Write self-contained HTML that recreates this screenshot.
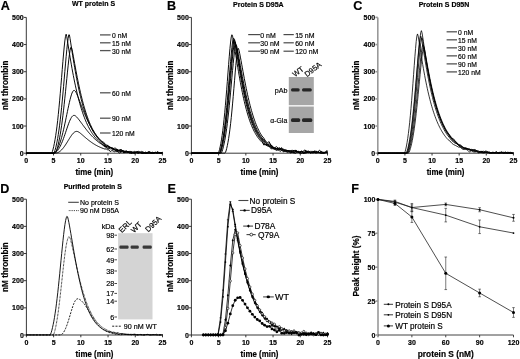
<!DOCTYPE html>
<html><head><meta charset="utf-8"><style>
html,body{margin:0;padding:0;background:#fff;}
svg{display:block;}
text{font-family:"Liberation Sans",sans-serif;fill:#000;stroke:#000;stroke-width:0.18px;}
svg{filter:grayscale(1);}
</style></head><body>
<svg width="520" height="359" viewBox="0 0 520 359">
<rect width="520" height="359" fill="#fff"/>
<line x1="26.30" y1="153.20" x2="26.30" y2="17.40" stroke="#222" stroke-width="0.9" />
<line x1="26.30" y1="153.20" x2="162.40" y2="153.20" stroke="#222" stroke-width="0.9" />
<line x1="26.30" y1="153.20" x2="26.30" y2="155.50" stroke="#222" stroke-width="0.9" />
<text transform="translate(26.30,163.30) scale(0.95,1)" font-size="7.4" font-weight="bold" text-anchor="middle" >0</text>
<line x1="53.52" y1="153.20" x2="53.52" y2="155.50" stroke="#222" stroke-width="0.9" />
<text transform="translate(53.52,163.30) scale(0.95,1)" font-size="7.4" font-weight="bold" text-anchor="middle" >5</text>
<line x1="80.74" y1="153.20" x2="80.74" y2="155.50" stroke="#222" stroke-width="0.9" />
<text transform="translate(80.74,163.30) scale(0.95,1)" font-size="7.4" font-weight="bold" text-anchor="middle" >10</text>
<line x1="107.96" y1="153.20" x2="107.96" y2="155.50" stroke="#222" stroke-width="0.9" />
<text transform="translate(107.96,163.30) scale(0.95,1)" font-size="7.4" font-weight="bold" text-anchor="middle" >15</text>
<line x1="135.18" y1="153.20" x2="135.18" y2="155.50" stroke="#222" stroke-width="0.9" />
<text transform="translate(135.18,163.30) scale(0.95,1)" font-size="7.4" font-weight="bold" text-anchor="middle" >20</text>
<line x1="162.40" y1="153.20" x2="162.40" y2="155.50" stroke="#222" stroke-width="0.9" />
<text transform="translate(162.40,163.30) scale(0.95,1)" font-size="7.4" font-weight="bold" text-anchor="middle" >25</text>
<line x1="23.90" y1="153.20" x2="26.30" y2="153.20" stroke="#222" stroke-width="0.9" />
<text transform="translate(23.70,155.80) scale(0.95,1)" font-size="7.4" font-weight="bold" text-anchor="end" >0</text>
<line x1="23.90" y1="126.04" x2="26.30" y2="126.04" stroke="#222" stroke-width="0.9" />
<text transform="translate(23.70,128.64) scale(0.95,1)" font-size="7.4" font-weight="bold" text-anchor="end" >100</text>
<line x1="23.90" y1="98.88" x2="26.30" y2="98.88" stroke="#222" stroke-width="0.9" />
<text transform="translate(23.70,101.48) scale(0.95,1)" font-size="7.4" font-weight="bold" text-anchor="end" >200</text>
<line x1="23.90" y1="71.72" x2="26.30" y2="71.72" stroke="#222" stroke-width="0.9" />
<text transform="translate(23.70,74.32) scale(0.95,1)" font-size="7.4" font-weight="bold" text-anchor="end" >300</text>
<line x1="23.90" y1="44.56" x2="26.30" y2="44.56" stroke="#222" stroke-width="0.9" />
<text transform="translate(23.70,47.16) scale(0.95,1)" font-size="7.4" font-weight="bold" text-anchor="end" >400</text>
<line x1="23.90" y1="17.40" x2="26.30" y2="17.40" stroke="#222" stroke-width="0.9" />
<text transform="translate(23.70,20.00) scale(0.95,1)" font-size="7.4" font-weight="bold" text-anchor="end" >500</text>
<text transform="translate(94.35,174.70) scale(0.9,1)" font-size="8.8" font-weight="bold" text-anchor="middle" >time (min)</text>
<text x="0" y="0" font-size="8.2" font-weight="bold" text-anchor="middle" transform="translate(8.10,85.30) rotate(-90)">nM thrombin</text>
<text x="0.80" y="9.60" font-size="12.6" font-weight="bold" text-anchor="start" >A</text>
<text x="93.50" y="6.40" font-size="7" font-weight="bold" text-anchor="middle" >WT protein S</text>
<polyline points="26.30,153.12 26.95,153.12 27.61,153.12 28.26,153.12 28.91,153.12 29.57,153.12 30.22,153.12 30.87,153.12 31.53,153.12 32.18,153.12 32.83,153.12 33.49,153.12 34.14,153.12 34.79,153.12 35.45,153.12 36.10,153.12 36.75,153.12 37.41,153.12 38.06,153.12 38.71,153.12 39.37,153.12 40.02,153.12 40.67,153.12 41.33,153.12 41.98,153.12 42.63,153.12 43.29,153.12 43.94,153.12 44.59,153.12 45.25,153.12 45.90,153.12 46.55,153.12 47.20,153.12 47.86,153.12 48.51,153.12 49.16,153.12 49.82,153.12 50.47,153.12 51.12,153.12 51.78,152.95 52.43,151.43 53.08,149.09 53.74,146.37 54.39,143.25 55.04,139.69 55.70,135.66 56.35,131.14 57.00,126.11 57.66,120.55 58.31,114.47 58.96,107.89 59.62,100.84 60.27,93.39 60.92,85.62 61.58,77.64 62.23,69.59 62.88,61.65 63.54,54.04 64.19,47.03 64.84,40.95 65.50,36.26 66.15,34.20 66.80,36.82 67.46,40.85 68.11,44.98 68.76,49.10 69.42,53.17 70.07,57.16 70.72,61.05 71.38,64.84 72.03,68.52 72.68,72.08 73.34,75.53 73.99,78.86 74.64,82.08 75.30,85.17 75.95,88.16 76.60,91.03 77.26,93.79 77.91,96.45 78.56,99.00 79.22,101.45 79.87,103.79 80.52,106.05 81.18,108.21 81.83,110.27 82.48,112.26 83.14,114.15 83.79,115.97 84.44,117.71 85.10,119.37 85.75,120.96 86.40,122.48 87.06,123.93 87.71,125.32 88.36,126.64 89.01,127.91 89.67,129.12 90.32,130.27 90.97,131.38 91.63,132.43 92.28,133.43 92.93,134.39 93.59,135.30 94.24,136.17 94.89,137.00 95.55,137.79 96.20,138.54 96.85,139.26 97.51,139.94 98.16,140.59 98.81,141.22 99.47,141.81 100.12,142.37 100.77,142.90 101.43,143.41 102.08,143.90 103.44,145.39 104.80,145.99 106.16,146.41 107.52,148.72 108.89,147.97 110.25,147.39 111.61,148.17 112.97,149.17 114.33,149.19 115.69,149.95 117.05,150.30 118.41,150.03 119.77,150.92 121.13,150.45 122.50,150.59 123.86,150.76 125.22,152.02 126.58,152.05 127.94,151.84 129.30,152.41 130.66,151.42 132.02,152.16 133.38,152.39 134.74,152.82 136.11,152.25 137.47,151.95 138.83,151.28 140.19,152.60 141.55,151.40 142.91,151.89 144.27,152.65 145.63,152.12 146.99,152.94 148.35,151.54 149.72,153.20 151.08,153.01 152.44,153.20 153.80,152.93 155.16,152.98 156.52,152.73 157.88,151.57 159.24,153.02 160.60,153.10 161.96,153.04 162.40,153.20" fill="none" stroke="#000" stroke-width="0.95" stroke-linejoin="round" />
<polyline points="26.30,153.12 26.95,153.12 27.61,153.12 28.26,153.12 28.91,153.12 29.57,153.12 30.22,153.12 30.87,153.12 31.53,153.12 32.18,153.12 32.83,153.12 33.49,153.12 34.14,153.12 34.79,153.12 35.45,153.12 36.10,153.12 36.75,153.12 37.41,153.12 38.06,153.12 38.71,153.12 39.37,153.12 40.02,153.12 40.67,153.12 41.33,153.12 41.98,153.12 42.63,153.12 43.29,153.12 43.94,153.12 44.59,153.12 45.25,153.12 45.90,153.12 46.55,153.12 47.20,153.12 47.86,153.12 48.51,153.12 49.16,153.12 49.82,153.12 50.47,153.12 51.12,153.12 51.78,153.12 52.43,153.12 53.08,153.12 53.74,153.09 54.39,152.24 55.04,150.22 55.70,147.81 56.35,145.06 57.00,141.94 57.66,138.41 58.31,134.45 58.96,130.04 59.62,125.16 60.27,119.82 60.92,114.01 61.58,107.74 62.23,101.07 62.88,94.02 63.54,86.68 64.19,79.13 64.84,71.50 65.50,63.92 66.15,56.58 66.80,49.69 67.46,43.50 68.11,38.36 68.76,34.80 69.42,34.89 70.07,38.67 70.72,42.92 71.38,47.21 72.03,51.45 72.68,55.63 73.34,59.70 73.99,63.67 74.64,67.51 75.30,71.24 75.95,74.84 76.60,78.32 77.26,81.67 77.91,84.90 78.56,88.00 79.22,90.99 79.87,93.85 80.52,96.60 81.18,99.23 81.83,101.76 82.48,104.18 83.14,106.50 83.79,108.72 84.44,110.84 85.10,112.87 85.75,114.81 86.40,116.66 87.06,118.43 87.71,120.12 88.36,121.73 89.01,123.27 89.67,124.74 90.32,126.14 90.97,127.47 91.63,128.75 92.28,129.96 92.93,131.12 93.59,132.22 94.24,133.27 94.89,134.27 95.55,135.22 96.20,136.12 96.85,136.98 97.51,137.80 98.16,138.58 98.81,139.33 99.47,140.03 100.12,140.70 100.77,141.34 101.43,141.95 102.08,142.52 103.44,143.56 104.80,146.18 106.16,146.22 107.52,145.74 108.89,147.13 110.25,147.36 111.61,148.13 112.97,147.92 114.33,149.45 115.69,149.98 117.05,149.07 118.41,150.38 119.77,150.87 121.13,152.10 122.50,151.15 123.86,151.16 125.22,151.34 126.58,151.16 127.94,152.02 129.30,151.37 130.66,152.60 132.02,152.15 133.38,152.53 134.74,152.75 136.11,152.81 137.47,152.56 138.83,152.45 140.19,152.86 141.55,152.46 142.91,153.20 144.27,152.75 145.63,153.09 146.99,152.32 148.35,152.68 149.72,153.20 151.08,152.28 152.44,153.11 153.80,152.97 155.16,152.00 156.52,153.20 157.88,152.26 159.24,152.63 160.60,153.20 161.96,152.75 162.40,153.20" fill="none" stroke="#000" stroke-width="0.95" stroke-linejoin="round" />
<polyline points="26.30,153.12 26.95,153.12 27.61,153.12 28.26,153.12 28.91,153.12 29.57,153.12 30.22,153.12 30.87,153.12 31.53,153.12 32.18,153.12 32.83,153.12 33.49,153.12 34.14,153.12 34.79,153.12 35.45,153.12 36.10,153.12 36.75,153.12 37.41,153.12 38.06,153.12 38.71,153.12 39.37,153.12 40.02,153.12 40.67,153.12 41.33,153.12 41.98,153.12 42.63,153.12 43.29,153.12 43.94,153.12 44.59,153.12 45.25,153.12 45.90,153.12 46.55,153.12 47.20,153.12 47.86,153.12 48.51,153.12 49.16,153.12 49.82,153.12 50.47,153.12 51.12,153.12 51.78,153.12 52.43,153.12 53.08,153.12 53.74,153.12 54.39,153.11 55.04,153.00 55.70,152.37 56.35,150.94 57.00,148.97 57.66,146.68 58.31,144.08 58.96,141.16 59.62,137.88 60.27,134.23 60.92,130.21 61.58,125.79 62.23,120.98 62.88,115.79 63.54,110.23 64.19,104.34 64.84,98.17 65.50,91.77 66.15,85.22 66.80,78.63 67.46,72.11 68.11,65.81 68.76,59.92 69.42,54.65 70.07,50.30 70.72,47.48 71.38,47.18 72.03,49.39 72.68,52.70 73.34,56.26 73.99,59.88 74.64,63.49 75.30,67.06 75.95,70.58 76.60,74.02 77.26,77.38 77.91,80.65 78.56,83.82 79.22,86.89 79.87,89.86 80.52,92.73 81.18,95.50 81.83,98.17 82.48,100.74 83.14,103.21 83.79,105.58 84.44,107.85 85.10,110.04 85.75,112.13 86.40,114.13 87.06,116.05 87.71,117.88 88.36,119.64 89.01,121.31 89.67,122.91 90.32,124.44 90.97,125.90 91.63,127.29 92.28,128.62 92.93,129.88 93.59,131.08 94.24,132.23 94.89,133.32 95.55,134.36 96.20,135.34 96.85,136.28 97.51,137.18 98.16,138.03 98.81,138.83 99.47,139.60 100.12,140.32 100.77,141.01 101.43,141.67 102.08,142.29 103.44,143.61 104.80,144.30 106.16,147.34 107.52,144.90 108.89,147.37 110.25,147.44 111.61,147.61 112.97,148.62 114.33,149.71 115.69,149.93 117.05,150.14 118.41,150.52 119.77,149.77 121.13,149.65 122.50,150.47 123.86,152.99 125.22,152.14 126.58,151.59 127.94,152.38 129.30,152.04 130.66,153.14 132.02,152.47 133.38,152.60 134.74,152.45 136.11,153.20 137.47,151.36 138.83,152.73 140.19,152.36 141.55,153.20 142.91,153.20 144.27,153.04 145.63,152.92 146.99,153.17 148.35,153.07 149.72,151.40 151.08,153.20 152.44,153.20 153.80,153.20 155.16,152.92 156.52,153.20 157.88,153.20 159.24,152.75 160.60,153.20 161.96,153.20 162.40,152.66" fill="none" stroke="#000" stroke-width="0.95" stroke-linejoin="round" />
<polyline points="26.30,153.12 26.95,153.12 27.61,153.12 28.26,153.12 28.91,153.12 29.57,153.12 30.22,153.12 30.87,153.12 31.53,153.12 32.18,153.12 32.83,153.12 33.49,153.12 34.14,153.12 34.79,153.12 35.45,153.12 36.10,153.12 36.75,153.12 37.41,153.12 38.06,153.12 38.71,153.12 39.37,153.12 40.02,153.12 40.67,153.12 41.33,153.12 41.98,153.12 42.63,153.12 43.29,153.12 43.94,153.12 44.59,153.12 45.25,153.12 45.90,153.12 46.55,153.12 47.20,153.12 47.86,153.12 48.51,153.12 49.16,153.12 49.82,153.12 50.47,153.12 51.12,153.11 51.78,153.11 52.43,153.08 53.08,153.02 53.74,152.90 54.39,152.67 55.04,152.28 55.70,151.70 56.35,150.90 57.00,149.88 57.66,148.65 58.31,147.23 58.96,145.63 59.62,143.86 60.27,141.93 60.92,139.82 61.58,137.55 62.23,135.12 62.88,132.53 63.54,129.80 64.19,126.93 64.84,123.95 65.50,120.88 66.15,117.74 66.80,114.57 67.46,111.40 68.11,108.27 68.76,105.22 69.42,102.30 70.07,99.57 70.72,97.06 71.38,94.86 72.03,93.03 72.68,91.64 73.34,90.74 73.99,90.39 74.64,90.56 75.30,91.20 75.95,92.23 76.60,93.55 77.26,95.05 77.91,96.67 78.56,98.34 79.22,100.05 79.87,101.77 80.52,103.49 81.18,105.20 81.83,106.89 82.48,108.56 83.14,110.20 83.79,111.81 84.44,113.38 85.10,114.93 85.75,116.43 86.40,117.89 87.06,119.32 87.71,120.71 88.36,122.05 89.01,123.36 89.67,124.62 90.32,125.84 90.97,127.02 91.63,128.16 92.28,129.27 92.93,130.33 93.59,131.35 94.24,132.34 94.89,133.29 95.55,134.20 96.20,135.08 96.85,135.92 97.51,136.73 98.16,137.51 98.81,138.25 99.47,138.97 100.12,139.65 100.77,140.31 101.43,140.93 102.08,141.53 103.44,141.96 104.80,143.86 106.16,144.73 107.52,145.81 108.89,146.42 110.25,147.00 111.61,148.45 112.97,148.58 114.33,148.20 115.69,148.08 117.05,150.16 118.41,151.31 119.77,149.88 121.13,149.98 122.50,150.50 123.86,152.17 125.22,151.75 126.58,151.62 127.94,151.99 129.30,151.72 130.66,153.20 132.02,153.20 133.38,151.77 134.74,151.41 136.11,152.47 137.47,152.06 138.83,152.56 140.19,151.80 141.55,153.20 142.91,152.60 144.27,153.03 145.63,153.20 146.99,152.52 148.35,153.14 149.72,153.20 151.08,153.20 152.44,152.23 153.80,152.86 155.16,152.46 156.52,152.69 157.88,153.09 159.24,152.83 160.60,153.20 161.96,152.23 162.40,153.20" fill="none" stroke="#000" stroke-width="0.95" stroke-linejoin="round" />
<polyline points="26.30,153.12 26.95,153.12 27.61,153.12 28.26,153.12 28.91,153.12 29.57,153.12 30.22,153.12 30.87,153.12 31.53,153.12 32.18,153.12 32.83,153.12 33.49,153.12 34.14,153.12 34.79,153.12 35.45,153.12 36.10,153.12 36.75,153.12 37.41,153.12 38.06,153.12 38.71,153.12 39.37,153.12 40.02,153.12 40.67,153.12 41.33,153.12 41.98,153.12 42.63,153.12 43.29,153.12 43.94,153.12 44.59,153.12 45.25,153.12 45.90,153.12 46.55,153.12 47.20,153.12 47.86,153.12 48.51,153.12 49.16,153.12 49.82,153.12 50.47,153.12 51.12,153.12 51.78,153.11 52.43,153.10 53.08,153.07 53.74,153.01 54.39,152.89 55.04,152.67 55.70,152.34 56.35,151.86 57.00,151.24 57.66,150.48 58.31,149.58 58.96,148.56 59.62,147.43 60.27,146.18 60.92,144.82 61.58,143.36 62.23,141.79 62.88,140.13 63.54,138.38 64.19,136.56 64.84,134.68 65.50,132.75 66.15,130.80 66.80,128.86 67.46,126.93 68.11,125.07 68.76,123.28 69.42,121.60 70.07,120.06 70.72,118.69 71.38,117.53 72.03,116.59 72.68,115.92 73.34,115.51 73.99,115.37 74.64,115.48 75.30,115.81 75.95,116.31 76.60,116.93 77.26,117.65 77.91,118.42 78.56,119.24 79.22,120.08 79.87,120.95 80.52,121.82 81.18,122.71 81.83,123.60 82.48,124.49 83.14,125.37 83.79,126.25 84.44,127.12 85.10,127.99 85.75,128.84 86.40,129.68 87.06,130.50 87.71,131.31 88.36,132.10 89.01,132.88 89.67,133.64 90.32,134.38 90.97,135.11 91.63,135.81 92.28,136.50 92.93,137.16 93.59,137.81 94.24,138.44 94.89,139.05 95.55,139.64 96.20,140.21 96.85,140.77 97.51,141.30 98.16,141.82 98.81,142.32 99.47,142.80 100.12,143.26 100.77,143.71 101.43,144.14 102.08,144.55 103.44,145.69 104.80,146.80 106.16,146.96 107.52,146.71 108.89,148.55 110.25,148.80 111.61,148.90 112.97,149.44 114.33,149.84 115.69,150.62 117.05,151.02 118.41,152.15 119.77,151.07 121.13,151.36 122.50,150.76 123.86,151.71 125.22,151.26 126.58,151.09 127.94,152.13 129.30,152.97 130.66,151.67 132.02,152.09 133.38,152.82 134.74,153.20 136.11,151.38 137.47,153.20 138.83,153.06 140.19,152.72 141.55,153.20 142.91,153.17 144.27,152.69 145.63,153.20 146.99,153.08 148.35,153.20 149.72,152.30 151.08,152.99 152.44,153.20 153.80,153.20 155.16,152.89 156.52,152.41 157.88,152.26 159.24,153.20 160.60,152.59 161.96,153.20 162.40,151.87" fill="none" stroke="#000" stroke-width="0.95" stroke-linejoin="round" />
<polyline points="26.30,153.12 26.95,153.12 27.61,153.12 28.26,153.12 28.91,153.12 29.57,153.12 30.22,153.12 30.87,153.12 31.53,153.12 32.18,153.12 32.83,153.12 33.49,153.12 34.14,153.12 34.79,153.12 35.45,153.12 36.10,153.12 36.75,153.12 37.41,153.12 38.06,153.12 38.71,153.12 39.37,153.12 40.02,153.12 40.67,153.12 41.33,153.12 41.98,153.12 42.63,153.12 43.29,153.12 43.94,153.12 44.59,153.12 45.25,153.12 45.90,153.12 46.55,153.12 47.20,153.12 47.86,153.12 48.51,153.12 49.16,153.12 49.82,153.12 50.47,153.12 51.12,153.12 51.78,153.12 52.43,153.12 53.08,153.12 53.74,153.12 54.39,153.11 55.04,153.09 55.70,153.06 56.35,152.98 57.00,152.86 57.66,152.67 58.31,152.40 58.96,152.04 59.62,151.61 60.27,151.10 60.92,150.52 61.58,149.88 62.23,149.18 62.88,148.42 63.54,147.60 64.19,146.73 64.84,145.81 65.50,144.84 66.15,143.84 66.80,142.80 67.46,141.74 68.11,140.67 68.76,139.59 69.42,138.53 70.07,137.50 70.72,136.50 71.38,135.55 72.03,134.67 72.68,133.87 73.34,133.15 73.99,132.54 74.64,132.05 75.30,131.69 75.95,131.47 76.60,131.39 77.26,131.46 77.91,131.67 78.56,131.99 79.22,132.39 79.87,132.86 80.52,133.37 81.18,133.91 81.83,134.47 82.48,135.03 83.14,135.60 83.79,136.17 84.44,136.74 85.10,137.31 85.75,137.87 86.40,138.42 87.06,138.96 87.71,139.49 88.36,140.02 89.01,140.53 89.67,141.03 90.32,141.51 90.97,141.99 91.63,142.45 92.28,142.90 92.93,143.33 93.59,143.75 94.24,144.16 94.89,144.55 95.55,144.94 96.20,145.30 96.85,145.66 97.51,146.00 98.16,146.33 98.81,146.65 99.47,146.95 100.12,147.25 100.77,147.53 101.43,147.80 102.08,148.06 103.44,148.55 104.80,149.03 106.16,148.87 107.52,149.78 108.89,149.82 110.25,151.61 111.61,150.70 112.97,150.79 114.33,151.74 115.69,151.26 117.05,151.39 118.41,151.95 119.77,153.18 121.13,151.56 122.50,151.89 123.86,152.68 125.22,152.36 126.58,152.50 127.94,152.21 129.30,152.91 130.66,152.58 132.02,153.20 133.38,153.20 134.74,153.02 136.11,152.08 137.47,153.14 138.83,153.18 140.19,152.03 141.55,152.93 142.91,153.07 144.27,152.95 145.63,153.20 146.99,153.01 148.35,151.99 149.72,152.39 151.08,152.95 152.44,152.56 153.80,152.86 155.16,152.40 156.52,152.80 157.88,153.20 159.24,152.79 160.60,153.06 161.96,153.20 162.40,153.20" fill="none" stroke="#000" stroke-width="0.95" stroke-linejoin="round" />
<line x1="100.00" y1="34.90" x2="110.60" y2="34.90" stroke="#555" stroke-width="1.3" />
<text transform="translate(112.00,37.90) scale(0.93,1)" font-size="7.3" text-anchor="start" >0 nM</text>
<line x1="100.00" y1="42.80" x2="110.60" y2="42.80" stroke="#555" stroke-width="1.3" />
<text transform="translate(112.00,45.80) scale(0.93,1)" font-size="7.3" text-anchor="start" >15 nM</text>
<line x1="100.00" y1="50.60" x2="110.60" y2="50.60" stroke="#555" stroke-width="1.3" />
<text transform="translate(112.00,53.60) scale(0.93,1)" font-size="7.3" text-anchor="start" >30 nM</text>
<line x1="100.00" y1="92.80" x2="110.60" y2="92.80" stroke="#555" stroke-width="1.3" />
<text transform="translate(112.00,95.80) scale(0.93,1)" font-size="7.3" text-anchor="start" >60 nM</text>
<line x1="100.00" y1="118.20" x2="110.60" y2="118.20" stroke="#555" stroke-width="1.3" />
<text transform="translate(112.00,121.20) scale(0.93,1)" font-size="7.3" text-anchor="start" >90 nM</text>
<line x1="100.00" y1="133.00" x2="110.60" y2="133.00" stroke="#555" stroke-width="1.3" />
<text transform="translate(112.00,136.00) scale(0.93,1)" font-size="7.3" text-anchor="start" >120 nM</text>
<line x1="191.40" y1="153.20" x2="191.40" y2="17.40" stroke="#222" stroke-width="0.9" />
<line x1="191.40" y1="153.20" x2="327.50" y2="153.20" stroke="#222" stroke-width="0.9" />
<line x1="191.40" y1="153.20" x2="191.40" y2="155.50" stroke="#222" stroke-width="0.9" />
<text transform="translate(191.40,163.30) scale(0.95,1)" font-size="7.4" font-weight="bold" text-anchor="middle" >0</text>
<line x1="218.62" y1="153.20" x2="218.62" y2="155.50" stroke="#222" stroke-width="0.9" />
<text transform="translate(218.62,163.30) scale(0.95,1)" font-size="7.4" font-weight="bold" text-anchor="middle" >5</text>
<line x1="245.84" y1="153.20" x2="245.84" y2="155.50" stroke="#222" stroke-width="0.9" />
<text transform="translate(245.84,163.30) scale(0.95,1)" font-size="7.4" font-weight="bold" text-anchor="middle" >10</text>
<line x1="273.06" y1="153.20" x2="273.06" y2="155.50" stroke="#222" stroke-width="0.9" />
<text transform="translate(273.06,163.30) scale(0.95,1)" font-size="7.4" font-weight="bold" text-anchor="middle" >15</text>
<line x1="300.28" y1="153.20" x2="300.28" y2="155.50" stroke="#222" stroke-width="0.9" />
<text transform="translate(300.28,163.30) scale(0.95,1)" font-size="7.4" font-weight="bold" text-anchor="middle" >20</text>
<line x1="327.50" y1="153.20" x2="327.50" y2="155.50" stroke="#222" stroke-width="0.9" />
<text transform="translate(327.50,163.30) scale(0.95,1)" font-size="7.4" font-weight="bold" text-anchor="middle" >25</text>
<line x1="189.00" y1="153.20" x2="191.40" y2="153.20" stroke="#222" stroke-width="0.9" />
<text transform="translate(188.80,155.80) scale(0.95,1)" font-size="7.4" font-weight="bold" text-anchor="end" >0</text>
<line x1="189.00" y1="126.04" x2="191.40" y2="126.04" stroke="#222" stroke-width="0.9" />
<text transform="translate(188.80,128.64) scale(0.95,1)" font-size="7.4" font-weight="bold" text-anchor="end" >100</text>
<line x1="189.00" y1="98.88" x2="191.40" y2="98.88" stroke="#222" stroke-width="0.9" />
<text transform="translate(188.80,101.48) scale(0.95,1)" font-size="7.4" font-weight="bold" text-anchor="end" >200</text>
<line x1="189.00" y1="71.72" x2="191.40" y2="71.72" stroke="#222" stroke-width="0.9" />
<text transform="translate(188.80,74.32) scale(0.95,1)" font-size="7.4" font-weight="bold" text-anchor="end" >300</text>
<line x1="189.00" y1="44.56" x2="191.40" y2="44.56" stroke="#222" stroke-width="0.9" />
<text transform="translate(188.80,47.16) scale(0.95,1)" font-size="7.4" font-weight="bold" text-anchor="end" >400</text>
<line x1="189.00" y1="17.40" x2="191.40" y2="17.40" stroke="#222" stroke-width="0.9" />
<text transform="translate(188.80,20.00) scale(0.95,1)" font-size="7.4" font-weight="bold" text-anchor="end" >500</text>
<text transform="translate(259.45,174.70) scale(0.9,1)" font-size="8.8" font-weight="bold" text-anchor="middle" >time (min)</text>
<text x="0" y="0" font-size="8.2" font-weight="bold" text-anchor="middle" transform="translate(172.80,85.30) rotate(-90)">nM thrombin</text>
<text x="166.90" y="9.90" font-size="12.6" font-weight="bold" text-anchor="start" >B</text>
<text x="258.40" y="7.00" font-size="7" font-weight="bold" text-anchor="middle" >Protein S D95A</text>
<polyline points="191.40,153.12 192.05,153.12 192.71,153.12 193.36,153.12 194.01,153.12 194.67,153.12 195.32,153.12 195.97,153.12 196.63,153.12 197.28,153.12 197.93,153.12 198.59,153.12 199.24,153.12 199.89,153.12 200.55,153.12 201.20,153.12 201.85,153.12 202.51,153.12 203.16,153.12 203.81,153.12 204.47,153.12 205.12,153.12 205.77,153.12 206.43,153.12 207.08,153.12 207.73,153.12 208.39,153.12 209.04,153.12 209.69,153.12 210.35,153.12 211.00,153.12 211.65,153.12 212.30,153.12 212.96,153.12 213.61,153.12 214.26,153.12 214.92,153.12 215.57,153.12 216.22,153.12 216.88,153.12 217.53,153.11 218.18,152.96 218.84,151.91 219.49,149.70 220.14,146.90 220.80,143.64 221.45,139.89 222.10,135.61 222.76,130.77 223.41,125.35 224.06,119.34 224.72,112.74 225.37,105.58 226.02,97.92 226.68,89.83 227.33,81.44 227.98,72.90 228.64,64.40 229.29,56.20 229.94,48.60 230.60,42.00 231.25,36.98 231.90,34.75 232.56,36.13 233.21,39.38 233.86,43.14 234.52,47.10 235.17,51.16 235.82,55.26 236.48,59.36 237.13,63.41 237.78,67.41 238.44,71.33 239.09,75.15 239.74,78.87 240.40,82.47 241.05,85.96 241.70,89.33 242.36,92.57 243.01,95.68 243.66,98.67 244.32,101.54 244.97,104.28 245.62,106.90 246.28,109.39 246.93,111.78 247.58,114.04 248.24,116.20 248.89,118.25 249.54,120.19 250.20,122.04 250.85,123.79 251.50,125.44 252.16,127.01 252.81,128.49 253.46,129.89 254.11,131.21 254.77,132.46 255.42,133.64 256.07,134.75 256.73,135.80 257.38,136.78 258.03,137.71 258.69,138.58 259.34,139.40 259.99,140.18 260.65,140.90 261.30,141.59 261.95,142.23 263.75,143.46 265.55,144.79 267.34,145.95 269.14,146.20 270.94,148.78 272.73,148.70 274.53,148.95 276.33,150.41 278.12,149.86 279.92,149.21 281.72,149.02 283.51,150.42 285.31,149.57 287.11,150.42 288.90,150.75 290.70,151.62 292.50,152.09 294.29,152.64 296.09,151.30 297.88,152.20 299.68,152.49 301.48,151.55 303.27,153.20 305.07,151.79 306.87,152.62 308.66,152.20 310.46,152.90 312.26,152.19 314.05,152.48 315.85,152.74 317.65,152.60 319.44,152.82 321.24,153.20 323.04,152.66 324.83,152.75 326.63,152.61 327.50,152.88" fill="none" stroke="#000" stroke-width="0.95" stroke-linejoin="round" />
<polyline points="191.40,153.12 192.05,153.12 192.71,153.12 193.36,153.12 194.01,153.12 194.67,153.12 195.32,153.12 195.97,153.12 196.63,153.12 197.28,153.12 197.93,153.12 198.59,153.12 199.24,153.12 199.89,153.12 200.55,153.12 201.20,153.12 201.85,153.12 202.51,153.12 203.16,153.12 203.81,153.12 204.47,153.12 205.12,153.12 205.77,153.12 206.43,153.12 207.08,153.12 207.73,153.12 208.39,153.12 209.04,153.12 209.69,153.12 210.35,153.12 211.00,153.12 211.65,153.12 212.30,153.12 212.96,153.12 213.61,153.12 214.26,153.12 214.92,153.12 215.57,153.12 216.22,153.12 216.88,153.12 217.53,153.12 218.18,153.12 218.84,153.10 219.49,152.76 220.14,151.36 220.80,149.08 221.45,146.35 222.10,143.21 222.76,139.63 223.41,135.56 224.06,130.99 224.72,125.89 225.37,120.27 226.02,114.12 226.68,107.46 227.33,100.35 227.98,92.85 228.64,85.06 229.29,77.10 229.94,69.14 230.60,61.37 231.25,54.05 231.90,47.47 232.56,42.06 233.21,38.58 233.86,38.34 234.52,40.87 235.17,44.34 235.82,48.10 236.48,52.01 237.13,55.98 237.78,59.96 238.44,63.92 239.09,67.84 239.74,71.68 240.40,75.44 241.05,79.10 241.70,82.66 242.36,86.10 243.01,89.43 243.66,92.64 244.32,95.73 244.97,98.69 245.62,101.54 246.28,104.26 246.93,106.86 247.58,109.35 248.24,111.72 248.89,113.97 249.54,116.12 250.20,118.16 250.85,120.10 251.50,121.94 252.16,123.69 252.81,125.34 253.46,126.91 254.11,128.39 254.77,129.79 255.42,131.11 256.07,132.36 256.73,133.54 257.38,134.65 258.03,135.70 258.69,136.69 259.34,137.62 259.99,138.49 260.65,139.32 261.30,140.09 261.95,140.82 263.75,144.99 265.55,144.25 267.34,145.40 269.14,146.22 270.94,147.43 272.73,147.75 274.53,148.01 276.33,148.56 278.12,150.03 279.92,149.03 281.72,150.46 283.51,149.74 285.31,150.89 287.11,151.31 288.90,151.33 290.70,152.94 292.50,151.13 294.29,150.49 296.09,150.32 297.88,151.79 299.68,152.57 301.48,151.82 303.27,153.01 305.07,152.94 306.87,152.80 308.66,151.88 310.46,151.40 312.26,151.40 314.05,151.61 315.85,152.55 317.65,151.78 319.44,152.72 321.24,151.86 323.04,152.16 324.83,152.62 326.63,152.61 327.50,152.78" fill="none" stroke="#000" stroke-width="0.95" stroke-linejoin="round" />
<polyline points="191.40,153.12 192.05,153.12 192.71,153.12 193.36,153.12 194.01,153.12 194.67,153.12 195.32,153.12 195.97,153.12 196.63,153.12 197.28,153.12 197.93,153.12 198.59,153.12 199.24,153.12 199.89,153.12 200.55,153.12 201.20,153.12 201.85,153.12 202.51,153.12 203.16,153.12 203.81,153.12 204.47,153.12 205.12,153.12 205.77,153.12 206.43,153.12 207.08,153.12 207.73,153.12 208.39,153.12 209.04,153.12 209.69,153.12 210.35,153.12 211.00,153.12 211.65,153.12 212.30,153.12 212.96,153.12 213.61,153.12 214.26,153.12 214.92,153.12 215.57,153.12 216.22,153.12 216.88,153.12 217.53,153.12 218.18,153.12 218.84,153.12 219.49,152.99 220.14,152.12 220.80,150.22 221.45,147.81 222.10,145.04 222.76,141.88 223.41,138.29 224.06,134.26 224.72,129.76 225.37,124.78 226.02,119.31 226.68,113.37 227.33,106.98 227.98,100.18 228.64,93.03 229.29,85.63 229.94,78.07 230.60,70.52 231.25,63.14 231.90,56.15 232.56,49.80 233.21,44.45 233.86,40.67 234.52,39.66 235.17,41.69 235.82,44.98 236.48,48.64 237.13,52.46 237.78,56.36 238.44,60.29 239.09,64.20 239.74,68.07 240.40,71.88 241.05,75.60 241.70,79.23 242.36,82.77 243.01,86.19 243.66,89.50 244.32,92.69 244.97,95.76 245.62,98.71 246.28,101.55 246.93,104.26 247.58,106.85 248.24,109.33 248.89,111.69 249.54,113.94 250.20,116.09 250.85,118.13 251.50,120.06 252.16,121.90 252.81,123.64 253.46,125.30 254.11,126.86 254.77,128.34 255.42,129.74 256.07,131.06 256.73,132.31 257.38,133.49 258.03,134.60 258.69,135.65 259.34,136.64 259.99,137.57 260.65,138.45 261.30,139.27 261.95,140.05 263.75,141.86 265.55,144.71 267.34,144.26 269.14,145.17 270.94,145.48 272.73,148.12 274.53,149.36 276.33,148.79 278.12,149.47 279.92,151.34 281.72,150.33 283.51,151.72 285.31,150.79 287.11,152.37 288.90,152.02 290.70,151.68 292.50,151.07 294.29,151.59 296.09,151.86 297.88,151.64 299.68,153.20 301.48,153.20 303.27,153.07 305.07,153.20 306.87,151.80 308.66,151.06 310.46,152.78 312.26,152.38 314.05,151.35 315.85,152.09 317.65,152.37 319.44,152.41 321.24,152.93 323.04,153.20 324.83,152.08 326.63,152.16 327.50,153.16" fill="none" stroke="#000" stroke-width="0.95" stroke-linejoin="round" />
<polyline points="191.40,153.12 192.05,153.12 192.71,153.12 193.36,153.12 194.01,153.12 194.67,153.12 195.32,153.12 195.97,153.12 196.63,153.12 197.28,153.12 197.93,153.12 198.59,153.12 199.24,153.12 199.89,153.12 200.55,153.12 201.20,153.12 201.85,153.12 202.51,153.12 203.16,153.12 203.81,153.12 204.47,153.12 205.12,153.12 205.77,153.12 206.43,153.12 207.08,153.12 207.73,153.12 208.39,153.12 209.04,153.12 209.69,153.12 210.35,153.12 211.00,153.12 211.65,153.12 212.30,153.12 212.96,153.12 213.61,153.12 214.26,153.12 214.92,153.12 215.57,153.12 216.22,153.12 216.88,153.12 217.53,153.12 218.18,153.12 218.84,153.12 219.49,153.11 220.14,152.93 220.80,151.88 221.45,149.91 222.10,147.49 222.76,144.71 223.41,141.54 224.06,137.95 224.72,133.92 225.37,129.43 226.02,124.46 226.68,119.02 227.33,113.12 227.98,106.78 228.64,100.05 229.29,92.99 229.94,85.70 230.60,78.28 231.25,70.89 231.90,63.70 232.56,56.92 233.21,50.84 233.86,45.80 234.52,42.44 235.17,41.99 235.82,44.24 236.48,47.48 237.13,51.03 237.78,54.71 238.44,58.47 239.09,62.24 239.74,66.01 240.40,69.73 241.05,73.38 241.70,76.97 242.36,80.47 243.01,83.87 243.66,87.17 244.32,90.36 244.97,93.44 245.62,96.41 246.28,99.27 246.93,102.01 247.58,104.64 248.24,107.16 248.89,109.57 249.54,111.87 250.20,114.07 250.85,116.16 251.50,118.15 252.16,120.05 252.81,121.85 253.46,123.56 254.11,125.18 254.77,126.72 255.42,128.18 256.07,129.56 256.73,130.87 257.38,132.10 258.03,133.27 258.69,134.37 259.34,135.42 259.99,136.40 260.65,137.33 261.30,138.20 261.95,139.03 263.75,140.19 265.55,142.81 267.34,144.47 269.14,143.83 270.94,144.57 272.73,146.82 274.53,148.02 276.33,146.61 278.12,148.11 279.92,149.11 281.72,147.68 283.51,151.40 285.31,150.82 287.11,150.55 288.90,151.03 290.70,153.06 292.50,151.93 294.29,152.16 296.09,151.31 297.88,152.40 299.68,151.91 301.48,153.20 303.27,151.01 305.07,149.91 306.87,152.27 308.66,152.68 310.46,152.20 312.26,152.95 314.05,152.89 315.85,150.79 317.65,152.71 319.44,152.48 321.24,153.20 323.04,152.53 324.83,153.07 326.63,151.96 327.50,150.67" fill="none" stroke="#000" stroke-width="0.95" stroke-linejoin="round" />
<polyline points="191.40,153.12 192.05,153.12 192.71,153.12 193.36,153.12 194.01,153.12 194.67,153.12 195.32,153.12 195.97,153.12 196.63,153.12 197.28,153.12 197.93,153.12 198.59,153.12 199.24,153.12 199.89,153.12 200.55,153.12 201.20,153.12 201.85,153.12 202.51,153.12 203.16,153.12 203.81,153.12 204.47,153.12 205.12,153.12 205.77,153.12 206.43,153.12 207.08,153.12 207.73,153.12 208.39,153.12 209.04,153.12 209.69,153.12 210.35,153.12 211.00,153.12 211.65,153.12 212.30,153.12 212.96,153.12 213.61,153.12 214.26,153.12 214.92,153.12 215.57,153.12 216.22,153.12 216.88,153.12 217.53,153.12 218.18,153.12 218.84,153.12 219.49,153.12 220.14,153.12 220.80,153.09 221.45,152.72 222.10,151.34 222.76,149.24 223.41,146.76 224.06,143.92 224.72,140.70 225.37,137.06 226.02,132.98 226.68,128.44 227.33,123.44 227.98,117.98 228.64,112.08 229.29,105.76 229.94,99.08 230.60,92.11 231.25,84.94 231.90,77.69 232.56,70.52 233.21,63.62 233.86,57.20 234.52,51.56 235.17,47.09 235.82,44.63 236.48,45.23 237.13,47.90 237.78,51.19 238.44,54.70 239.09,58.32 239.74,61.99 240.40,65.67 241.05,69.32 241.70,72.93 242.36,76.48 243.01,79.94 243.66,83.32 244.32,86.60 244.97,89.79 245.62,92.86 246.28,95.83 246.93,98.69 247.58,101.44 248.24,104.07 248.89,106.60 249.54,109.02 250.20,111.34 250.85,113.54 251.50,115.65 252.16,117.66 252.81,119.57 253.46,121.38 254.11,123.11 254.77,124.75 255.42,126.31 256.07,127.78 256.73,129.18 257.38,130.50 258.03,131.75 258.69,132.93 259.34,134.05 259.99,135.11 260.65,136.11 261.30,137.05 261.95,137.94 263.75,140.04 265.55,142.00 267.34,143.67 269.14,146.16 270.94,146.66 272.73,148.01 274.53,147.86 276.33,149.44 278.12,148.54 279.92,147.73 281.72,150.06 283.51,149.16 285.31,150.48 287.11,150.70 288.90,151.02 290.70,150.51 292.50,150.35 294.29,150.68 296.09,150.62 297.88,151.95 299.68,152.14 301.48,150.96 303.27,151.89 305.07,152.41 306.87,151.42 308.66,151.82 310.46,152.75 312.26,152.69 314.05,150.75 315.85,152.37 317.65,152.22 319.44,152.49 321.24,151.51 323.04,153.20 324.83,152.92 326.63,150.62 327.50,152.47" fill="none" stroke="#000" stroke-width="0.95" stroke-linejoin="round" />
<polyline points="191.40,153.12 192.05,153.12 192.71,153.12 193.36,153.12 194.01,153.12 194.67,153.12 195.32,153.12 195.97,153.12 196.63,153.12 197.28,153.12 197.93,153.12 198.59,153.12 199.24,153.12 199.89,153.12 200.55,153.12 201.20,153.12 201.85,153.12 202.51,153.12 203.16,153.12 203.81,153.12 204.47,153.12 205.12,153.12 205.77,153.12 206.43,153.12 207.08,153.12 207.73,153.12 208.39,153.12 209.04,153.12 209.69,153.12 210.35,153.12 211.00,153.12 211.65,153.12 212.30,153.12 212.96,153.12 213.61,153.12 214.26,153.12 214.92,153.12 215.57,153.12 216.22,153.12 216.88,153.12 217.53,153.12 218.18,153.12 218.84,153.12 219.49,153.12 220.14,153.12 220.80,153.12 221.45,153.12 222.10,153.12 222.76,153.12 223.41,153.12 224.06,153.12 224.72,153.08 225.37,152.58 226.02,150.94 226.68,148.52 227.33,145.65 227.98,142.32 228.64,138.48 229.29,134.11 229.94,129.18 230.60,123.69 231.25,117.62 231.90,111.02 232.56,103.93 233.21,96.44 233.86,88.66 234.52,80.76 235.17,72.95 235.82,65.48 236.48,58.68 237.13,52.98 237.78,49.14 238.44,48.45 239.09,50.58 239.74,53.70 240.40,57.10 241.05,60.64 241.70,64.25 242.36,67.86 243.01,71.46 243.66,75.02 244.32,78.52 244.97,81.94 245.62,85.27 246.28,88.51 246.93,91.64 247.58,94.68 248.24,97.60 248.89,100.41 249.54,103.11 250.20,105.71 250.85,108.19 251.50,110.56 252.16,112.83 252.81,114.99 253.46,117.05 254.11,119.01 254.77,120.88 255.42,122.65 256.07,124.33 256.73,125.92 257.38,127.43 258.03,128.86 258.69,130.22 259.34,131.50 259.99,132.71 260.65,133.85 261.30,134.93 261.95,135.95 263.75,138.06 265.55,141.09 267.34,142.65 269.14,141.69 270.94,145.56 272.73,146.42 274.53,148.45 276.33,148.44 278.12,148.70 279.92,149.02 281.72,148.47 283.51,149.96 285.31,151.39 287.11,151.18 288.90,150.84 290.70,151.01 292.50,152.52 294.29,153.04 296.09,153.17 297.88,151.03 299.68,151.83 301.48,151.59 303.27,153.20 305.07,151.89 306.87,150.78 308.66,152.19 310.46,152.75 312.26,152.39 314.05,152.53 315.85,153.04 317.65,152.81 319.44,150.14 321.24,151.85 323.04,153.20 324.83,152.59 326.63,152.59 327.50,153.18" fill="none" stroke="#000" stroke-width="0.95" stroke-linejoin="round" />
<line x1="248.20" y1="34.60" x2="260.00" y2="34.60" stroke="#4a4a4a" stroke-width="1.2" />
<text transform="translate(260.30,37.60) scale(0.94,1)" font-size="7.4" text-anchor="start" >0 nM</text>
<line x1="248.20" y1="42.80" x2="260.00" y2="42.80" stroke="#4a4a4a" stroke-width="1.2" />
<text transform="translate(260.30,45.80) scale(0.94,1)" font-size="7.4" text-anchor="start" >30 nM</text>
<line x1="248.20" y1="51.20" x2="260.00" y2="51.20" stroke="#4a4a4a" stroke-width="1.2" />
<text transform="translate(260.30,54.20) scale(0.94,1)" font-size="7.4" text-anchor="start" >90 nM</text>
<line x1="283.50" y1="34.60" x2="293.80" y2="34.60" stroke="#4a4a4a" stroke-width="1.2" />
<text transform="translate(295.20,37.60) scale(0.94,1)" font-size="7.4" text-anchor="start" >15 nM</text>
<line x1="283.50" y1="42.80" x2="293.80" y2="42.80" stroke="#4a4a4a" stroke-width="1.2" />
<text transform="translate(295.20,45.80) scale(0.94,1)" font-size="7.4" text-anchor="start" >60 nM</text>
<line x1="283.50" y1="51.20" x2="293.80" y2="51.20" stroke="#4a4a4a" stroke-width="1.2" />
<text transform="translate(295.20,54.20) scale(0.94,1)" font-size="7.4" text-anchor="start" >120 nM</text>
<defs><filter id="bl" x="-50%" y="-100%" width="200%" height="300%"><feGaussianBlur stdDeviation="0.55"/></filter><filter id="bl2" x="-50%" y="-100%" width="200%" height="300%"><feGaussianBlur stdDeviation="0.45"/></filter></defs>
<rect x="288.8" y="77" width="25" height="28.2" fill="#a6a6a6"/>
<rect x="288.8" y="106.5" width="25" height="26.5" fill="#a6a6a6"/>
<rect x="291" y="88.2" width="8.699999999999989" height="3.4" rx="1.5" fill="#262626" filter="url(#bl)"/>
<rect x="291" y="118.3" width="9.199999999999989" height="3.6" rx="1.5" fill="#262626" filter="url(#bl)"/>
<rect x="302" y="88.2" width="9.800000000000011" height="3.4" rx="1.5" fill="#262626" filter="url(#bl)"/>
<rect x="302" y="118.3" width="10.300000000000011" height="3.6" rx="1.5" fill="#262626" filter="url(#bl)"/>
<text transform="translate(287.60,93.20) scale(0.92,1)" font-size="7.8" text-anchor="end" >pAb</text>
<text transform="translate(287.20,122.60) scale(0.88,1)" font-size="7.8" text-anchor="end" >α-Gla</text>
<text x="0" y="0" font-size="7.6" transform="translate(295.0,77.3) rotate(-38)">WT</text>
<text x="0" y="0" font-size="7.6" transform="translate(307.0,77.3) rotate(-38)">D95A</text>
<line x1="377.80" y1="153.20" x2="377.80" y2="17.40" stroke="#999" stroke-width="1.6" />
<line x1="377.80" y1="153.20" x2="513.40" y2="153.20" stroke="#333" stroke-width="1.0" />
<line x1="377.80" y1="153.20" x2="377.80" y2="155.50" stroke="#333" stroke-width="1.0" />
<text transform="translate(377.80,163.30) scale(0.95,1)" font-size="7.4" font-weight="bold" text-anchor="middle" >0</text>
<line x1="404.92" y1="153.20" x2="404.92" y2="155.50" stroke="#333" stroke-width="1.0" />
<text transform="translate(404.92,163.30) scale(0.95,1)" font-size="7.4" font-weight="bold" text-anchor="middle" >5</text>
<line x1="432.04" y1="153.20" x2="432.04" y2="155.50" stroke="#333" stroke-width="1.0" />
<text transform="translate(432.04,163.30) scale(0.95,1)" font-size="7.4" font-weight="bold" text-anchor="middle" >10</text>
<line x1="459.16" y1="153.20" x2="459.16" y2="155.50" stroke="#333" stroke-width="1.0" />
<text transform="translate(459.16,163.30) scale(0.95,1)" font-size="7.4" font-weight="bold" text-anchor="middle" >15</text>
<line x1="486.28" y1="153.20" x2="486.28" y2="155.50" stroke="#333" stroke-width="1.0" />
<text transform="translate(486.28,163.30) scale(0.95,1)" font-size="7.4" font-weight="bold" text-anchor="middle" >20</text>
<line x1="513.40" y1="153.20" x2="513.40" y2="155.50" stroke="#333" stroke-width="1.0" />
<text transform="translate(513.40,163.30) scale(0.95,1)" font-size="7.4" font-weight="bold" text-anchor="middle" >25</text>
<line x1="375.40" y1="153.20" x2="377.80" y2="153.20" stroke="#999" stroke-width="1.6" />
<text transform="translate(375.20,155.80) scale(0.95,1)" font-size="7.4" font-weight="bold" text-anchor="end" >0</text>
<line x1="375.40" y1="126.04" x2="377.80" y2="126.04" stroke="#999" stroke-width="1.6" />
<text transform="translate(375.20,128.64) scale(0.95,1)" font-size="7.4" font-weight="bold" text-anchor="end" >100</text>
<line x1="375.40" y1="98.88" x2="377.80" y2="98.88" stroke="#999" stroke-width="1.6" />
<text transform="translate(375.20,101.48) scale(0.95,1)" font-size="7.4" font-weight="bold" text-anchor="end" >200</text>
<line x1="375.40" y1="71.72" x2="377.80" y2="71.72" stroke="#999" stroke-width="1.6" />
<text transform="translate(375.20,74.32) scale(0.95,1)" font-size="7.4" font-weight="bold" text-anchor="end" >300</text>
<line x1="375.40" y1="44.56" x2="377.80" y2="44.56" stroke="#999" stroke-width="1.6" />
<text transform="translate(375.20,47.16) scale(0.95,1)" font-size="7.4" font-weight="bold" text-anchor="end" >400</text>
<line x1="375.40" y1="17.40" x2="377.80" y2="17.40" stroke="#999" stroke-width="1.6" />
<text transform="translate(375.20,20.00) scale(0.95,1)" font-size="7.4" font-weight="bold" text-anchor="end" >500</text>
<text transform="translate(445.60,174.70) scale(0.9,1)" font-size="8.8" font-weight="bold" text-anchor="middle" >time (min)</text>
<text x="0" y="0" font-size="8.2" font-weight="bold" text-anchor="middle" transform="translate(359.00,85.30) rotate(-90)">nM thrombin</text>
<text x="353.20" y="10.00" font-size="12.6" font-weight="bold" text-anchor="start" >C</text>
<text x="444.00" y="7.30" font-size="7" font-weight="bold" text-anchor="middle" >Protein S D95N</text>
<polyline points="377.80,153.12 378.45,153.12 379.10,153.12 379.75,153.12 380.40,153.12 381.05,153.12 381.71,153.12 382.36,153.12 383.01,153.12 383.66,153.12 384.31,153.12 384.96,153.12 385.61,153.12 386.26,153.12 386.91,153.12 387.56,153.12 388.21,153.12 388.86,153.12 389.52,153.12 390.17,153.12 390.82,153.12 391.47,153.12 392.12,153.12 392.77,153.12 393.42,153.12 394.07,153.12 394.72,153.12 395.37,153.12 396.02,153.12 396.68,153.12 397.33,153.12 397.98,153.12 398.63,153.12 399.28,153.12 399.93,153.12 400.58,153.12 401.23,153.12 401.88,153.12 402.53,153.12 403.18,153.12 403.84,153.11 404.49,152.87 405.14,151.56 405.79,149.09 406.44,146.03 407.09,142.46 407.74,138.33 408.39,133.61 409.04,128.26 409.69,122.27 410.34,115.62 410.99,108.35 411.65,100.49 412.30,92.13 412.95,83.38 413.60,74.41 414.25,65.44 414.90,56.72 415.55,48.60 416.20,41.51 416.85,36.12 417.50,33.94 418.15,36.01 418.81,39.99 419.46,44.22 420.11,48.44 420.76,52.61 421.41,56.70 422.06,60.68 422.71,64.56 423.36,68.32 424.01,71.96 424.66,75.48 425.31,78.88 425.97,82.16 426.62,85.31 427.27,88.35 427.92,91.27 428.57,94.07 429.22,96.77 429.87,99.35 430.52,101.83 431.17,104.21 431.82,106.48 432.47,108.67 433.12,110.75 433.78,112.75 434.43,114.66 435.08,116.49 435.73,118.24 436.38,119.90 437.03,121.50 437.68,123.02 438.33,124.48 438.98,125.87 439.63,127.19 440.28,128.45 440.94,129.66 441.59,130.81 442.24,131.91 442.89,132.95 443.54,133.95 444.19,134.90 444.84,135.80 445.49,136.67 446.14,137.49 446.79,138.27 447.44,139.01 448.10,139.72 449.88,140.94 451.67,143.11 453.46,144.50 455.25,145.33 457.04,146.28 458.83,147.26 460.62,146.89 462.41,149.22 464.20,149.54 465.99,149.31 467.78,150.27 469.57,152.26 471.36,150.10 473.15,151.06 474.94,151.55 476.73,151.78 478.52,152.76 480.31,152.49 482.10,152.45 483.89,152.72 485.68,150.96 487.47,151.56 489.26,153.20 491.05,152.84 492.84,152.80 494.63,153.20 496.42,153.20 498.21,153.00 500.00,152.85 501.79,152.08 503.58,153.12 505.37,153.20 507.16,152.09 508.95,153.20 510.74,153.20 512.53,153.16 513.40,152.92" fill="none" stroke="#000" stroke-width="0.8" stroke-linejoin="round" />
<polyline points="377.80,153.12 378.45,153.12 379.10,153.12 379.75,153.12 380.40,153.12 381.05,153.12 381.71,153.12 382.36,153.12 383.01,153.12 383.66,153.12 384.31,153.12 384.96,153.12 385.61,153.12 386.26,153.12 386.91,153.12 387.56,153.12 388.21,153.12 388.86,153.12 389.52,153.12 390.17,153.12 390.82,153.12 391.47,153.12 392.12,153.12 392.77,153.12 393.42,153.12 394.07,153.12 394.72,153.12 395.37,153.12 396.02,153.12 396.68,153.12 397.33,153.12 397.98,153.12 398.63,153.12 399.28,153.12 399.93,153.12 400.58,153.12 401.23,153.12 401.88,153.12 402.53,153.12 403.18,153.12 403.84,153.12 404.49,153.12 405.14,153.12 405.79,153.12 406.44,153.05 407.09,152.39 407.74,150.56 408.39,148.07 409.04,145.17 409.69,141.86 410.34,138.10 410.99,133.87 411.65,129.13 412.30,123.87 412.95,118.10 413.60,111.80 414.25,105.01 414.90,97.76 415.55,90.12 416.20,82.18 416.85,74.04 417.50,65.86 418.15,57.81 418.81,50.12 419.46,43.06 420.11,36.97 420.76,32.38 421.41,30.67 422.06,32.93 422.71,37.02 423.36,41.36 424.01,45.70 424.66,49.97 425.31,54.17 425.97,58.26 426.62,62.24 427.27,66.10 427.92,69.83 428.57,73.45 429.22,76.93 429.87,80.30 430.52,83.53 431.17,86.65 431.82,89.65 432.47,92.53 433.12,95.29 433.78,97.94 434.43,100.49 435.08,102.92 435.73,105.26 436.38,107.50 437.03,109.64 437.68,111.69 438.33,113.65 438.98,115.53 439.63,117.32 440.28,119.03 440.94,120.67 441.59,122.23 442.24,123.73 442.89,125.15 443.54,126.51 444.19,127.81 444.84,129.05 445.49,130.23 446.14,131.35 446.79,132.42 447.44,133.45 448.10,134.42 449.88,137.08 451.67,138.74 453.46,141.23 455.25,142.64 457.04,143.46 458.83,145.12 460.62,146.60 462.41,147.11 464.20,148.45 465.99,148.70 467.78,149.17 469.57,149.73 471.36,149.32 473.15,150.03 474.94,150.93 476.73,150.80 478.52,151.63 480.31,151.92 482.10,151.29 483.89,152.17 485.68,152.27 487.47,152.18 489.26,152.80 491.05,152.56 492.84,152.36 494.63,152.75 496.42,151.63 498.21,153.20 500.00,152.00 501.79,152.92 503.58,152.97 505.37,151.83 507.16,153.20 508.95,152.75 510.74,153.20 512.53,153.20 513.40,153.20" fill="none" stroke="#000" stroke-width="0.8" stroke-linejoin="round" />
<polyline points="377.80,153.12 378.45,153.12 379.10,153.12 379.75,153.12 380.40,153.12 381.05,153.12 381.71,153.12 382.36,153.12 383.01,153.12 383.66,153.12 384.31,153.12 384.96,153.12 385.61,153.12 386.26,153.12 386.91,153.12 387.56,153.12 388.21,153.12 388.86,153.12 389.52,153.12 390.17,153.12 390.82,153.12 391.47,153.12 392.12,153.12 392.77,153.12 393.42,153.12 394.07,153.12 394.72,153.12 395.37,153.12 396.02,153.12 396.68,153.12 397.33,153.12 397.98,153.12 398.63,153.12 399.28,153.12 399.93,153.12 400.58,153.12 401.23,153.12 401.88,153.12 402.53,153.12 403.18,153.12 403.84,153.12 404.49,153.12 405.14,153.12 405.79,153.08 406.44,152.61 407.09,151.03 407.74,148.72 408.39,146.01 409.04,142.92 409.69,139.40 410.34,135.43 410.99,130.98 411.65,126.04 412.30,120.60 412.95,114.67 413.60,108.26 414.25,101.40 414.90,94.16 415.55,86.61 416.20,78.85 416.85,71.03 417.50,63.30 418.15,55.88 418.81,49.01 419.46,43.01 420.11,38.33 420.76,36.10 421.41,37.70 422.06,41.48 422.71,45.62 423.36,49.77 424.01,53.87 424.66,57.89 425.31,61.82 425.97,65.64 426.62,69.35 427.27,72.94 427.92,76.41 428.57,79.77 429.22,83.00 429.87,86.11 430.52,89.11 431.17,91.99 431.82,94.76 432.47,97.42 433.12,99.97 433.78,102.42 434.43,104.77 435.08,107.02 435.73,109.17 436.38,111.23 437.03,113.21 437.68,115.10 438.33,116.90 438.98,118.63 439.63,120.28 440.28,121.85 440.94,123.36 441.59,124.80 442.24,126.17 442.89,127.48 443.54,128.73 444.19,129.92 444.84,131.06 445.49,132.14 446.14,133.17 446.79,134.16 447.44,135.10 448.10,135.99 449.88,138.19 451.67,140.54 453.46,142.01 455.25,143.37 457.04,143.60 458.83,145.82 460.62,147.46 462.41,148.36 464.20,148.27 465.99,148.21 467.78,148.70 469.57,150.16 471.36,150.59 473.15,151.81 474.94,152.00 476.73,151.28 478.52,151.12 480.31,152.08 482.10,152.87 483.89,152.56 485.68,152.28 487.47,152.59 489.26,152.83 491.05,153.20 492.84,152.76 494.63,153.19 496.42,152.76 498.21,152.71 500.00,152.53 501.79,153.20 503.58,153.15 505.37,152.76 507.16,153.01 508.95,152.16 510.74,153.05 512.53,153.20 513.40,152.91" fill="none" stroke="#000" stroke-width="0.8" stroke-linejoin="round" />
<polyline points="377.80,153.12 378.45,153.12 379.10,153.12 379.75,153.12 380.40,153.12 381.05,153.12 381.71,153.12 382.36,153.12 383.01,153.12 383.66,153.12 384.31,153.12 384.96,153.12 385.61,153.12 386.26,153.12 386.91,153.12 387.56,153.12 388.21,153.12 388.86,153.12 389.52,153.12 390.17,153.12 390.82,153.12 391.47,153.12 392.12,153.12 392.77,153.12 393.42,153.12 394.07,153.12 394.72,153.12 395.37,153.12 396.02,153.12 396.68,153.12 397.33,153.12 397.98,153.12 398.63,153.12 399.28,153.12 399.93,153.12 400.58,153.12 401.23,153.12 401.88,153.12 402.53,153.12 403.18,153.12 403.84,153.12 404.49,153.12 405.14,153.12 405.79,153.12 406.44,153.12 407.09,153.02 407.74,152.22 408.39,150.35 409.04,147.93 409.69,145.14 410.34,141.95 410.99,138.34 411.65,134.27 412.30,129.72 412.95,124.69 413.60,119.16 414.25,113.15 414.90,106.68 415.55,99.78 416.20,92.53 416.85,85.01 417.50,77.32 418.15,69.62 418.81,62.08 419.46,54.91 420.11,48.39 420.76,42.84 421.41,38.85 422.06,37.84 422.71,40.38 423.36,44.25 424.01,48.27 424.66,52.28 425.31,56.24 425.97,60.11 426.62,63.89 427.27,67.57 427.92,71.14 428.57,74.60 429.22,77.95 429.87,81.18 430.52,84.30 431.17,87.30 431.82,90.20 432.47,92.98 433.12,95.66 433.78,98.23 434.43,100.70 435.08,103.08 435.73,105.35 436.38,107.53 437.03,109.63 437.68,111.63 438.33,113.55 438.98,115.39 439.63,117.15 440.28,118.83 440.94,120.44 441.59,121.98 442.24,123.45 442.89,124.86 443.54,126.21 444.19,127.49 444.84,128.72 445.49,129.89 446.14,131.00 446.79,132.07 447.44,133.09 448.10,134.06 449.88,135.42 451.67,139.18 453.46,140.54 455.25,141.91 457.04,143.13 458.83,145.58 460.62,145.37 462.41,146.79 464.20,147.83 465.99,148.22 467.78,149.18 469.57,149.13 471.36,150.71 473.15,149.79 474.94,149.45 476.73,150.92 478.52,152.60 480.31,151.39 482.10,151.91 483.89,152.65 485.68,152.11 487.47,153.07 489.26,152.89 491.05,152.98 492.84,153.04 494.63,152.65 496.42,153.20 498.21,153.20 500.00,152.96 501.79,152.76 503.58,152.25 505.37,152.97 507.16,153.20 508.95,152.81 510.74,152.27 512.53,153.08 513.40,152.73" fill="none" stroke="#000" stroke-width="0.8" stroke-linejoin="round" />
<polyline points="377.80,153.12 378.45,153.12 379.10,153.12 379.75,153.12 380.40,153.12 381.05,153.12 381.71,153.12 382.36,153.12 383.01,153.12 383.66,153.12 384.31,153.12 384.96,153.12 385.61,153.12 386.26,153.12 386.91,153.12 387.56,153.12 388.21,153.12 388.86,153.12 389.52,153.12 390.17,153.12 390.82,153.12 391.47,153.12 392.12,153.12 392.77,153.12 393.42,153.12 394.07,153.12 394.72,153.12 395.37,153.12 396.02,153.12 396.68,153.12 397.33,153.12 397.98,153.12 398.63,153.12 399.28,153.12 399.93,153.12 400.58,153.12 401.23,153.12 401.88,153.12 402.53,153.12 403.18,153.12 403.84,153.12 404.49,153.12 405.14,153.12 405.79,153.12 406.44,153.12 407.09,153.11 407.74,152.97 408.39,152.05 409.04,150.24 409.69,148.01 410.34,145.45 410.99,142.55 411.65,139.27 412.30,135.60 412.95,131.52 413.60,127.00 414.25,122.06 414.90,116.69 415.55,110.92 416.20,104.76 416.85,98.28 417.50,91.53 418.15,84.61 418.81,77.62 419.46,70.70 420.11,64.01 420.76,57.76 421.41,52.19 422.06,47.64 422.71,44.81 423.36,45.16 424.01,48.22 424.66,51.95 425.31,55.74 425.97,59.50 426.62,63.19 427.27,66.81 427.92,70.34 428.57,73.76 429.22,77.09 429.87,80.31 430.52,83.42 431.17,86.42 431.82,89.32 432.47,92.11 433.12,94.80 433.78,97.39 434.43,99.88 435.08,102.26 435.73,104.56 436.38,106.76 437.03,108.87 437.68,110.90 438.33,112.84 438.98,114.70 439.63,116.48 440.28,118.18 440.94,119.81 441.59,121.37 442.24,122.87 442.89,124.29 443.54,125.66 444.19,126.96 444.84,128.21 445.49,129.40 446.14,130.53 446.79,131.62 447.44,132.65 448.10,133.64 449.88,136.00 451.67,138.55 453.46,138.89 455.25,141.17 457.04,144.35 458.83,144.46 460.62,145.92 462.41,147.20 464.20,148.37 465.99,148.74 467.78,149.36 469.57,149.10 471.36,149.74 473.15,150.17 474.94,150.71 476.73,151.14 478.52,152.13 480.31,152.39 482.10,151.82 483.89,151.13 485.68,152.19 487.47,152.15 489.26,152.12 491.05,153.20 492.84,152.19 494.63,152.55 496.42,152.63 498.21,152.73 500.00,153.20 501.79,152.69 503.58,153.05 505.37,152.55 507.16,153.12 508.95,152.88 510.74,153.00 512.53,153.20 513.40,153.07" fill="none" stroke="#000" stroke-width="0.8" stroke-linejoin="round" />
<polyline points="377.80,153.12 378.45,153.12 379.10,153.12 379.75,153.12 380.40,153.12 381.05,153.12 381.71,153.12 382.36,153.12 383.01,153.12 383.66,153.12 384.31,153.12 384.96,153.12 385.61,153.12 386.26,153.12 386.91,153.12 387.56,153.12 388.21,153.12 388.86,153.12 389.52,153.12 390.17,153.12 390.82,153.12 391.47,153.12 392.12,153.12 392.77,153.12 393.42,153.12 394.07,153.12 394.72,153.12 395.37,153.12 396.02,153.12 396.68,153.12 397.33,153.12 397.98,153.12 398.63,153.12 399.28,153.12 399.93,153.12 400.58,153.12 401.23,153.12 401.88,153.12 402.53,153.12 403.18,153.12 403.84,153.12 404.49,153.12 405.14,153.12 405.79,153.12 406.44,153.12 407.09,153.12 407.74,153.12 408.39,153.04 409.04,152.40 409.69,150.80 410.34,148.71 410.99,146.30 411.65,143.55 412.30,140.45 412.95,136.97 413.60,133.09 414.25,128.79 414.90,124.08 415.55,118.94 416.20,113.41 416.85,107.50 417.50,101.25 418.15,94.72 418.81,88.01 419.46,81.19 420.11,74.41 420.76,67.82 421.41,61.60 422.06,55.97 422.71,51.25 423.36,47.95 424.01,47.42 424.66,49.96 425.31,53.54 425.97,57.23 426.62,60.91 427.27,64.53 427.92,68.08 428.57,71.54 429.22,74.91 429.87,78.17 430.52,81.34 431.17,84.40 431.82,87.36 432.47,90.21 433.12,92.96 433.78,95.60 434.43,98.15 435.08,100.60 435.73,102.95 436.38,105.21 437.03,107.38 437.68,109.46 438.33,111.46 438.98,113.37 439.63,115.20 440.28,116.96 440.94,118.64 441.59,120.25 442.24,121.79 442.89,123.26 443.54,124.67 444.19,126.01 444.84,127.30 445.49,128.53 446.14,129.70 446.79,130.82 447.44,131.89 448.10,132.91 449.88,135.47 451.67,137.58 453.46,139.32 455.25,141.00 457.04,142.80 458.83,144.75 460.62,145.11 462.41,146.88 464.20,147.81 465.99,148.00 467.78,148.70 469.57,149.43 471.36,150.00 473.15,150.26 474.94,150.16 476.73,150.62 478.52,151.29 480.31,151.61 482.10,151.27 483.89,153.20 485.68,151.95 487.47,152.29 489.26,152.09 491.05,152.95 492.84,153.20 494.63,152.67 496.42,152.10 498.21,153.20 500.00,153.20 501.79,151.70 503.58,153.20 505.37,153.20 507.16,153.17 508.95,153.20 510.74,153.20 512.53,153.20 513.40,153.11" fill="none" stroke="#000" stroke-width="0.8" stroke-linejoin="round" />
<line x1="446.60" y1="31.80" x2="457.00" y2="31.80" stroke="#555" stroke-width="1.3" />
<text transform="translate(458.00,34.80) scale(0.93,1)" font-size="7.3" text-anchor="start" >0 nM</text>
<line x1="446.60" y1="39.82" x2="457.00" y2="39.82" stroke="#555" stroke-width="1.3" />
<text transform="translate(458.00,42.82) scale(0.93,1)" font-size="7.3" text-anchor="start" >15 nM</text>
<line x1="446.60" y1="47.84" x2="457.00" y2="47.84" stroke="#555" stroke-width="1.3" />
<text transform="translate(458.00,50.84) scale(0.93,1)" font-size="7.3" text-anchor="start" >30 nM</text>
<line x1="446.60" y1="55.86" x2="457.00" y2="55.86" stroke="#555" stroke-width="1.3" />
<text transform="translate(458.00,58.86) scale(0.93,1)" font-size="7.3" text-anchor="start" >60 nM</text>
<line x1="446.60" y1="63.88" x2="457.00" y2="63.88" stroke="#555" stroke-width="1.3" />
<text transform="translate(458.00,66.88) scale(0.93,1)" font-size="7.3" text-anchor="start" >90 nM</text>
<line x1="446.60" y1="71.90" x2="457.00" y2="71.90" stroke="#555" stroke-width="1.3" />
<text transform="translate(458.00,74.90) scale(0.93,1)" font-size="7.3" text-anchor="start" >120 nM</text>
<line x1="26.40" y1="335.00" x2="26.40" y2="199.20" stroke="#222" stroke-width="0.9" />
<line x1="26.40" y1="335.00" x2="162.50" y2="335.00" stroke="#222" stroke-width="0.9" />
<line x1="26.40" y1="335.00" x2="26.40" y2="337.30" stroke="#222" stroke-width="0.9" />
<text transform="translate(26.40,345.10) scale(0.95,1)" font-size="7.4" font-weight="bold" text-anchor="middle" >0</text>
<line x1="53.62" y1="335.00" x2="53.62" y2="337.30" stroke="#222" stroke-width="0.9" />
<text transform="translate(53.62,345.10) scale(0.95,1)" font-size="7.4" font-weight="bold" text-anchor="middle" >5</text>
<line x1="80.84" y1="335.00" x2="80.84" y2="337.30" stroke="#222" stroke-width="0.9" />
<text transform="translate(80.84,345.10) scale(0.95,1)" font-size="7.4" font-weight="bold" text-anchor="middle" >10</text>
<line x1="108.06" y1="335.00" x2="108.06" y2="337.30" stroke="#222" stroke-width="0.9" />
<text transform="translate(108.06,345.10) scale(0.95,1)" font-size="7.4" font-weight="bold" text-anchor="middle" >15</text>
<line x1="135.28" y1="335.00" x2="135.28" y2="337.30" stroke="#222" stroke-width="0.9" />
<text transform="translate(135.28,345.10) scale(0.95,1)" font-size="7.4" font-weight="bold" text-anchor="middle" >20</text>
<line x1="162.50" y1="335.00" x2="162.50" y2="337.30" stroke="#222" stroke-width="0.9" />
<text transform="translate(162.50,345.10) scale(0.95,1)" font-size="7.4" font-weight="bold" text-anchor="middle" >25</text>
<line x1="24.00" y1="335.00" x2="26.40" y2="335.00" stroke="#222" stroke-width="0.9" />
<text transform="translate(23.80,337.60) scale(0.95,1)" font-size="7.4" font-weight="bold" text-anchor="end" >0</text>
<line x1="24.00" y1="307.84" x2="26.40" y2="307.84" stroke="#222" stroke-width="0.9" />
<text transform="translate(23.80,310.44) scale(0.95,1)" font-size="7.4" font-weight="bold" text-anchor="end" >100</text>
<line x1="24.00" y1="280.68" x2="26.40" y2="280.68" stroke="#222" stroke-width="0.9" />
<text transform="translate(23.80,283.28) scale(0.95,1)" font-size="7.4" font-weight="bold" text-anchor="end" >200</text>
<line x1="24.00" y1="253.52" x2="26.40" y2="253.52" stroke="#222" stroke-width="0.9" />
<text transform="translate(23.80,256.12) scale(0.95,1)" font-size="7.4" font-weight="bold" text-anchor="end" >300</text>
<line x1="24.00" y1="226.36" x2="26.40" y2="226.36" stroke="#222" stroke-width="0.9" />
<text transform="translate(23.80,228.96) scale(0.95,1)" font-size="7.4" font-weight="bold" text-anchor="end" >400</text>
<line x1="24.00" y1="199.20" x2="26.40" y2="199.20" stroke="#222" stroke-width="0.9" />
<text transform="translate(23.80,201.80) scale(0.95,1)" font-size="7.4" font-weight="bold" text-anchor="end" >500</text>
<text transform="translate(94.45,356.50) scale(0.9,1)" font-size="8.8" font-weight="bold" text-anchor="middle" >time (min)</text>
<text x="0" y="0" font-size="8.2" font-weight="bold" text-anchor="middle" transform="translate(8.20,267.10) rotate(-90)">nM thrombin</text>
<text x="0.30" y="193.00" font-size="12.6" font-weight="bold" text-anchor="start" >D</text>
<text x="92.80" y="189.40" font-size="7" font-weight="bold" text-anchor="middle" >Purified protein S</text>
<polyline points="26.40,334.92 27.05,334.92 27.71,334.92 28.36,334.92 29.01,334.92 29.67,334.92 30.32,334.92 30.97,334.92 31.63,334.92 32.28,334.92 32.93,334.92 33.59,334.92 34.24,334.92 34.89,334.92 35.55,334.92 36.20,334.92 36.85,334.92 37.51,334.92 38.16,334.92 38.81,334.92 39.47,334.92 40.12,334.92 40.77,334.92 41.43,334.92 42.08,334.92 42.73,334.92 43.39,334.92 44.04,334.92 44.69,334.92 45.35,334.92 46.00,334.92 46.65,334.92 47.30,334.92 47.96,334.92 48.61,334.92 49.26,334.92 49.92,334.86 50.57,334.23 51.22,332.52 51.88,330.21 52.53,327.56 53.18,324.56 53.84,321.19 54.49,317.43 55.14,313.28 55.80,308.72 56.45,303.76 57.10,298.41 57.76,292.70 58.41,286.65 59.06,280.32 59.72,273.76 60.37,267.04 61.02,260.26 61.68,253.51 62.33,246.91 62.98,240.57 63.64,234.63 64.29,229.23 64.94,224.51 65.60,220.64 66.25,217.79 66.90,216.30 67.56,216.87 68.21,219.27 68.86,222.44 69.52,225.93 70.17,229.61 70.82,233.41 71.48,237.26 72.13,241.14 72.78,245.01 73.44,248.84 74.09,252.62 74.74,256.34 75.40,259.97 76.05,263.52 76.70,266.97 77.36,270.31 78.01,273.55 78.66,276.68 79.32,279.69 79.97,282.59 80.62,285.38 81.28,288.05 81.93,290.61 82.58,293.06 83.24,295.40 83.89,297.64 84.54,299.76 85.20,301.79 85.85,303.72 86.50,305.55 87.16,307.28 87.81,308.93 88.46,310.49 89.11,311.97 89.77,313.37 90.42,314.69 91.07,315.93 91.73,317.11 92.38,318.22 93.03,319.27 93.69,320.25 94.34,321.18 94.99,322.05 95.65,322.87 96.30,323.64 96.95,324.37 97.61,325.05 98.26,325.69 98.91,326.28 99.57,326.84 100.22,327.37 100.87,327.86 101.53,328.32 102.18,328.75 102.83,329.15 103.49,329.53 104.14,329.88 104.79,330.21 105.45,330.52 106.10,330.81 106.75,331.07 107.41,331.32 108.06,331.56 109.86,331.89 111.65,332.35 113.45,332.95 115.25,333.13 117.04,333.54 118.84,334.27 120.64,333.62 122.43,333.87 124.23,334.29 126.03,334.30 127.82,334.63 129.62,334.65 131.41,334.66 133.21,334.37 135.01,334.22 136.80,334.81 138.60,334.85 140.40,334.61 142.19,334.80 143.99,334.86 145.79,334.75 147.58,334.39 149.38,334.90 151.18,335.00 152.97,334.65 154.77,334.71 156.57,334.94 158.36,335.00 160.16,334.66 161.96,335.00 162.50,334.86" fill="none" stroke="#000" stroke-width="0.9" stroke-linejoin="round" />
<polyline points="26.40,334.92 27.05,334.92 27.71,334.92 28.36,334.92 29.01,334.92 29.67,334.92 30.32,334.92 30.97,334.92 31.63,334.92 32.28,334.92 32.93,334.92 33.59,334.92 34.24,334.92 34.89,334.92 35.55,334.92 36.20,334.92 36.85,334.92 37.51,334.92 38.16,334.92 38.81,334.92 39.47,334.92 40.12,334.92 40.77,334.92 41.43,334.92 42.08,334.92 42.73,334.92 43.39,334.92 44.04,334.92 44.69,334.92 45.35,334.92 46.00,334.92 46.65,334.92 47.30,334.92 47.96,334.92 48.61,334.92 49.26,334.92 49.92,334.92 50.57,334.92 51.22,334.92 51.88,334.92 52.53,334.92 53.18,334.82 53.84,334.01 54.49,332.08 55.14,329.55 55.80,326.62 56.45,323.26 57.10,319.48 57.76,315.26 58.41,310.63 59.06,305.59 59.72,300.21 60.37,294.52 61.02,288.61 61.68,282.56 62.33,276.47 62.98,270.44 63.64,264.59 64.29,259.04 64.94,253.90 65.60,249.28 66.25,245.27 66.90,241.96 67.56,239.40 68.21,237.63 68.86,236.69 69.52,236.87 70.17,238.41 70.82,240.71 71.48,243.34 72.13,246.13 72.78,249.04 73.44,252.01 74.09,255.02 74.74,258.03 75.40,261.03 76.05,264.00 76.70,266.94 77.36,269.82 78.01,272.65 78.66,275.41 79.32,278.10 79.97,280.72 80.62,283.26 81.28,285.72 81.93,288.10 82.58,290.39 83.24,292.61 83.89,294.73 84.54,296.78 85.20,298.74 85.85,300.63 86.50,302.43 87.16,304.16 87.81,305.81 88.46,307.38 89.11,308.88 89.77,310.32 90.42,311.68 91.07,312.98 91.73,314.21 92.38,315.39 93.03,316.50 93.69,317.56 94.34,318.56 94.99,319.51 95.65,320.40 96.30,321.25 96.95,322.06 97.61,322.82 98.26,323.54 98.91,324.22 99.57,324.86 100.22,325.46 100.87,326.03 101.53,326.57 102.18,327.07 102.83,327.55 103.49,328.00 104.14,328.42 104.79,328.82 105.45,329.19 106.10,329.54 106.75,329.87 107.41,330.18 108.06,330.47 109.86,331.18 111.65,331.98 113.45,332.09 115.25,332.55 117.04,332.49 118.84,332.97 120.64,334.06 122.43,333.69 124.23,333.79 126.03,334.39 127.82,333.89 129.62,334.43 131.41,334.14 133.21,334.60 135.01,334.32 136.80,335.00 138.60,334.73 140.40,334.41 142.19,335.00 143.99,334.80 145.79,334.55 147.58,334.51 149.38,334.83 151.18,334.73 152.97,334.88 154.77,335.00 156.57,334.24 158.36,334.78 160.16,334.92 161.96,335.00 162.50,334.20" fill="none" stroke="#000" stroke-width="1.0" stroke-linejoin="round" stroke-dasharray="0.7 0.7"/>
<polyline points="26.40,334.92 27.05,334.92 27.71,334.92 28.36,334.92 29.01,334.92 29.67,334.92 30.32,334.92 30.97,334.92 31.63,334.92 32.28,334.92 32.93,334.92 33.59,334.92 34.24,334.92 34.89,334.92 35.55,334.92 36.20,334.92 36.85,334.92 37.51,334.92 38.16,334.92 38.81,334.92 39.47,334.92 40.12,334.92 40.77,334.92 41.43,334.92 42.08,334.92 42.73,334.92 43.39,334.92 44.04,334.92 44.69,334.92 45.35,334.92 46.00,334.92 46.65,334.92 47.30,334.92 47.96,334.92 48.61,334.92 49.26,334.92 49.92,334.92 50.57,334.92 51.22,334.92 51.88,334.92 52.53,334.92 53.18,334.92 53.84,334.92 54.49,334.92 55.14,334.92 55.80,334.92 56.45,334.92 57.10,334.92 57.76,334.92 58.41,334.92 59.06,334.91 59.72,334.88 60.37,334.81 61.02,334.64 61.68,334.34 62.33,333.85 62.98,333.15 63.64,332.25 64.29,331.16 64.94,329.89 65.60,328.47 66.25,326.89 66.90,325.16 67.56,323.30 68.21,321.32 68.86,319.23 69.52,317.08 70.17,314.87 70.82,312.66 71.48,310.49 72.13,308.38 72.78,306.40 73.44,304.57 74.09,302.95 74.74,301.57 75.40,300.46 76.05,299.64 76.70,299.10 77.36,298.84 78.01,298.81 78.66,298.96 79.32,299.25 79.97,299.64 80.62,300.12 81.28,300.68 81.93,301.30 82.58,302.00 83.24,302.75 83.89,303.56 84.54,304.42 85.20,305.33 85.85,306.28 86.50,307.27 87.16,308.28 87.81,309.32 88.46,310.37 89.11,311.44 89.77,312.51 90.42,313.58 91.07,314.64 91.73,315.70 92.38,316.74 93.03,317.77 93.69,318.77 94.34,319.75 94.99,320.69 95.65,321.61 96.30,322.49 96.95,323.34 97.61,324.15 98.26,324.92 98.91,325.66 99.57,326.35 100.22,327.01 100.87,327.62 101.53,328.20 102.18,328.74 102.83,329.25 103.49,329.72 104.14,330.15 104.79,330.56 105.45,330.93 106.10,331.27 106.75,331.58 107.41,331.87 108.06,332.13 109.86,332.72 111.65,333.20 113.45,333.35 115.25,334.15 117.04,334.48 118.84,334.36 120.64,334.86 122.43,334.40 124.23,334.24 126.03,334.51 127.82,334.50 129.62,334.31 131.41,334.76 133.21,334.81 135.01,334.59 136.80,334.73 138.60,334.69 140.40,334.77 142.19,334.71 143.99,335.00 145.79,334.75 147.58,334.73 149.38,334.85 151.18,334.78 152.97,334.75 154.77,334.80 156.57,334.84 158.36,335.00 160.16,335.00 161.96,335.00 162.50,334.87" fill="none" stroke="#000" stroke-width="0.9" stroke-linejoin="round" stroke-dasharray="2.0 1.2"/>
<line x1="68.20" y1="202.30" x2="78.80" y2="202.30" stroke="#444" stroke-width="1.1" />
<text transform="translate(80.00,204.90) scale(0.95,1)" font-size="7.4" text-anchor="start" >No protein S</text>
<line x1="68.80" y1="210.60" x2="78.80" y2="210.60" stroke="#222" stroke-width="1.0" stroke-dasharray="0.8 1.0"/>
<text transform="translate(80.00,212.90) scale(0.95,1)" font-size="7.4" text-anchor="start" >90 nM D95A</text>
<line x1="112.20" y1="326.20" x2="122.00" y2="326.20" stroke="#222" stroke-width="1.0" stroke-dasharray="2 1.3"/>
<text transform="translate(123.80,328.80) scale(0.93,1)" font-size="7.7" text-anchor="start" >90 nM WT</text>
<rect x="118.1" y="233.2" width="34.4" height="86.2" fill="#d4d4d4"/>
<rect x="119.4" y="245.6" width="9.199999999999989" height="3.2" rx="1.2" fill="#383838" filter="url(#bl2)"/>
<rect x="130.6" y="245.6" width="8.200000000000017" height="3.2" rx="1.2" fill="#383838" filter="url(#bl2)"/>
<rect x="142.6" y="245.6" width="9.200000000000017" height="3.2" rx="1.2" fill="#383838" filter="url(#bl2)"/>
<text transform="translate(114.20,238.10) scale(0.9,1)" font-size="8.0" text-anchor="end" >98</text>
<line x1="114.40" y1="235.20" x2="117.00" y2="235.20" stroke="#333" stroke-width="0.9" />
<text transform="translate(114.20,251.90) scale(0.9,1)" font-size="8.0" text-anchor="end" >62</text>
<line x1="114.40" y1="249.00" x2="117.00" y2="249.00" stroke="#333" stroke-width="0.9" />
<text transform="translate(114.20,262.70) scale(0.9,1)" font-size="8.0" text-anchor="end" >49</text>
<line x1="114.40" y1="259.80" x2="117.00" y2="259.80" stroke="#333" stroke-width="0.9" />
<text transform="translate(114.20,273.90) scale(0.9,1)" font-size="8.0" text-anchor="end" >38</text>
<line x1="114.40" y1="271.00" x2="117.00" y2="271.00" stroke="#333" stroke-width="0.9" />
<text transform="translate(114.20,286.40) scale(0.9,1)" font-size="8.0" text-anchor="end" >28</text>
<line x1="114.40" y1="283.50" x2="117.00" y2="283.50" stroke="#333" stroke-width="0.9" />
<text transform="translate(114.20,296.30) scale(0.9,1)" font-size="8.0" text-anchor="end" >17</text>
<line x1="114.40" y1="293.40" x2="117.00" y2="293.40" stroke="#333" stroke-width="0.9" />
<text transform="translate(114.20,304.10) scale(0.9,1)" font-size="8.0" text-anchor="end" >14</text>
<line x1="114.40" y1="301.20" x2="117.00" y2="301.20" stroke="#333" stroke-width="0.9" />
<text transform="translate(114.20,319.90) scale(0.9,1)" font-size="8.0" text-anchor="end" >6</text>
<line x1="114.40" y1="317.00" x2="117.00" y2="317.00" stroke="#333" stroke-width="0.9" />
<text x="101.70" y="229.20" font-size="7.3" text-anchor="start" >kDa</text>
<text x="0" y="0" font-size="7.6" transform="translate(121.8,233.3) rotate(-45)">ERL</text>
<text x="0" y="0" font-size="7.6" transform="translate(134.0,233.3) rotate(-45)">WT</text>
<text x="0" y="0" font-size="7.6" transform="translate(148.3,232.6) rotate(-45)">D95A</text>
<line x1="191.40" y1="335.00" x2="191.40" y2="199.20" stroke="#222" stroke-width="0.9" />
<line x1="191.40" y1="335.00" x2="327.50" y2="335.00" stroke="#222" stroke-width="0.9" />
<line x1="191.40" y1="335.00" x2="191.40" y2="337.30" stroke="#222" stroke-width="0.9" />
<text transform="translate(191.40,345.10) scale(0.95,1)" font-size="7.4" font-weight="bold" text-anchor="middle" >0</text>
<line x1="218.62" y1="335.00" x2="218.62" y2="337.30" stroke="#222" stroke-width="0.9" />
<text transform="translate(218.62,345.10) scale(0.95,1)" font-size="7.4" font-weight="bold" text-anchor="middle" >5</text>
<line x1="245.84" y1="335.00" x2="245.84" y2="337.30" stroke="#222" stroke-width="0.9" />
<text transform="translate(245.84,345.10) scale(0.95,1)" font-size="7.4" font-weight="bold" text-anchor="middle" >10</text>
<line x1="273.06" y1="335.00" x2="273.06" y2="337.30" stroke="#222" stroke-width="0.9" />
<text transform="translate(273.06,345.10) scale(0.95,1)" font-size="7.4" font-weight="bold" text-anchor="middle" >15</text>
<line x1="300.28" y1="335.00" x2="300.28" y2="337.30" stroke="#222" stroke-width="0.9" />
<text transform="translate(300.28,345.10) scale(0.95,1)" font-size="7.4" font-weight="bold" text-anchor="middle" >20</text>
<line x1="327.50" y1="335.00" x2="327.50" y2="337.30" stroke="#222" stroke-width="0.9" />
<text transform="translate(327.50,345.10) scale(0.95,1)" font-size="7.4" font-weight="bold" text-anchor="middle" >25</text>
<line x1="189.00" y1="335.00" x2="191.40" y2="335.00" stroke="#222" stroke-width="0.9" />
<text transform="translate(188.80,337.60) scale(0.95,1)" font-size="7.4" font-weight="bold" text-anchor="end" >0</text>
<line x1="189.00" y1="307.84" x2="191.40" y2="307.84" stroke="#222" stroke-width="0.9" />
<text transform="translate(188.80,310.44) scale(0.95,1)" font-size="7.4" font-weight="bold" text-anchor="end" >100</text>
<line x1="189.00" y1="280.68" x2="191.40" y2="280.68" stroke="#222" stroke-width="0.9" />
<text transform="translate(188.80,283.28) scale(0.95,1)" font-size="7.4" font-weight="bold" text-anchor="end" >200</text>
<line x1="189.00" y1="253.52" x2="191.40" y2="253.52" stroke="#222" stroke-width="0.9" />
<text transform="translate(188.80,256.12) scale(0.95,1)" font-size="7.4" font-weight="bold" text-anchor="end" >300</text>
<line x1="189.00" y1="226.36" x2="191.40" y2="226.36" stroke="#222" stroke-width="0.9" />
<text transform="translate(188.80,228.96) scale(0.95,1)" font-size="7.4" font-weight="bold" text-anchor="end" >400</text>
<line x1="189.00" y1="199.20" x2="191.40" y2="199.20" stroke="#222" stroke-width="0.9" />
<text transform="translate(188.80,201.80) scale(0.95,1)" font-size="7.4" font-weight="bold" text-anchor="end" >500</text>
<text transform="translate(259.45,356.50) scale(0.9,1)" font-size="8.8" font-weight="bold" text-anchor="middle" >time (min)</text>
<text x="0" y="0" font-size="8.2" font-weight="bold" text-anchor="middle" transform="translate(172.80,267.10) rotate(-90)">nM thrombin</text>
<text x="167.40" y="193.00" font-size="12.6" font-weight="bold" text-anchor="start" >E</text>
<polyline points="203.38,334.92 205.83,334.92 208.28,334.92 210.73,334.92 213.18,334.92 215.63,334.92 218.08,333.81 220.53,317.84 222.98,290.13 225.43,254.00 227.87,219.80 230.32,201.68 232.77,211.53 235.22,226.65 237.67,240.66 240.12,253.24 242.57,264.39 245.02,274.18 247.47,282.71 249.92,290.12 252.37,296.53 254.82,302.06 257.27,306.67 259.72,309.58 262.17,314.28 264.62,317.44 267.07,319.44 269.52,321.28 271.97,322.51 274.42,324.67 276.87,328.54 279.32,328.22 281.77,328.64 284.22,329.86 286.67,331.49 289.12,332.22 291.57,331.30 294.02,331.48 296.47,332.12 298.92,332.83 301.37,333.83 303.82,332.90 306.27,333.50 308.72,333.05 311.17,333.80 313.62,335.00 316.07,332.99 318.52,334.42 320.97,335.00 323.42,334.46 325.87,334.35 327.50,334.72" fill="none" stroke="#000" stroke-width="0.8" stroke-linejoin="round" />
<line x1="202.38" y1="334.92" x2="204.38" y2="334.92" stroke="#000" stroke-width="0.7"/>
<line x1="204.83" y1="334.92" x2="206.83" y2="334.92" stroke="#000" stroke-width="0.7"/>
<line x1="207.28" y1="334.92" x2="209.28" y2="334.92" stroke="#000" stroke-width="0.7"/>
<line x1="209.73" y1="334.92" x2="211.73" y2="334.92" stroke="#000" stroke-width="0.7"/>
<line x1="212.18" y1="334.92" x2="214.18" y2="334.92" stroke="#000" stroke-width="0.7"/>
<line x1="214.63" y1="334.92" x2="216.63" y2="334.92" stroke="#000" stroke-width="0.7"/>
<line x1="217.08" y1="333.81" x2="219.08" y2="333.81" stroke="#000" stroke-width="0.7"/>
<line x1="219.53" y1="317.84" x2="221.53" y2="317.84" stroke="#000" stroke-width="0.7"/>
<line x1="221.98" y1="290.13" x2="223.98" y2="290.13" stroke="#000" stroke-width="0.7"/>
<line x1="224.43" y1="254.00" x2="226.43" y2="254.00" stroke="#000" stroke-width="0.7"/>
<line x1="226.87" y1="219.80" x2="228.87" y2="219.80" stroke="#000" stroke-width="0.7"/>
<line x1="229.32" y1="201.68" x2="231.32" y2="201.68" stroke="#000" stroke-width="0.7"/>
<line x1="231.77" y1="211.53" x2="233.77" y2="211.53" stroke="#000" stroke-width="0.7"/>
<line x1="234.22" y1="226.65" x2="236.22" y2="226.65" stroke="#000" stroke-width="0.7"/>
<line x1="236.67" y1="240.66" x2="238.67" y2="240.66" stroke="#000" stroke-width="0.7"/>
<line x1="239.12" y1="253.24" x2="241.12" y2="253.24" stroke="#000" stroke-width="0.7"/>
<line x1="241.57" y1="264.39" x2="243.57" y2="264.39" stroke="#000" stroke-width="0.7"/>
<line x1="244.02" y1="274.18" x2="246.02" y2="274.18" stroke="#000" stroke-width="0.7"/>
<line x1="246.47" y1="282.71" x2="248.47" y2="282.71" stroke="#000" stroke-width="0.7"/>
<line x1="248.92" y1="290.12" x2="250.92" y2="290.12" stroke="#000" stroke-width="0.7"/>
<line x1="251.37" y1="296.53" x2="253.37" y2="296.53" stroke="#000" stroke-width="0.7"/>
<line x1="253.82" y1="302.06" x2="255.82" y2="302.06" stroke="#000" stroke-width="0.7"/>
<line x1="256.27" y1="306.67" x2="258.27" y2="306.67" stroke="#000" stroke-width="0.7"/>
<line x1="258.72" y1="309.58" x2="260.72" y2="309.58" stroke="#000" stroke-width="0.7"/>
<line x1="261.17" y1="314.28" x2="263.17" y2="314.28" stroke="#000" stroke-width="0.7"/>
<line x1="263.62" y1="317.44" x2="265.62" y2="317.44" stroke="#000" stroke-width="0.7"/>
<line x1="266.07" y1="319.44" x2="268.07" y2="319.44" stroke="#000" stroke-width="0.7"/>
<line x1="268.52" y1="321.28" x2="270.52" y2="321.28" stroke="#000" stroke-width="0.7"/>
<line x1="270.97" y1="322.51" x2="272.97" y2="322.51" stroke="#000" stroke-width="0.7"/>
<line x1="273.42" y1="324.67" x2="275.42" y2="324.67" stroke="#000" stroke-width="0.7"/>
<line x1="275.87" y1="328.54" x2="277.87" y2="328.54" stroke="#000" stroke-width="0.7"/>
<line x1="278.32" y1="328.22" x2="280.32" y2="328.22" stroke="#000" stroke-width="0.7"/>
<line x1="280.77" y1="328.64" x2="282.77" y2="328.64" stroke="#000" stroke-width="0.7"/>
<line x1="283.22" y1="329.86" x2="285.22" y2="329.86" stroke="#000" stroke-width="0.7"/>
<line x1="285.67" y1="331.49" x2="287.67" y2="331.49" stroke="#000" stroke-width="0.7"/>
<line x1="288.12" y1="332.22" x2="290.12" y2="332.22" stroke="#000" stroke-width="0.7"/>
<line x1="290.57" y1="331.30" x2="292.57" y2="331.30" stroke="#000" stroke-width="0.7"/>
<line x1="293.02" y1="331.48" x2="295.02" y2="331.48" stroke="#000" stroke-width="0.7"/>
<line x1="295.47" y1="332.12" x2="297.47" y2="332.12" stroke="#000" stroke-width="0.7"/>
<line x1="297.92" y1="332.83" x2="299.92" y2="332.83" stroke="#000" stroke-width="0.7"/>
<line x1="300.37" y1="333.83" x2="302.37" y2="333.83" stroke="#000" stroke-width="0.7"/>
<line x1="302.82" y1="332.90" x2="304.82" y2="332.90" stroke="#000" stroke-width="0.7"/>
<line x1="305.27" y1="333.50" x2="307.27" y2="333.50" stroke="#000" stroke-width="0.7"/>
<line x1="307.72" y1="333.05" x2="309.72" y2="333.05" stroke="#000" stroke-width="0.7"/>
<line x1="310.17" y1="333.80" x2="312.17" y2="333.80" stroke="#000" stroke-width="0.7"/>
<line x1="312.62" y1="335.00" x2="314.62" y2="335.00" stroke="#000" stroke-width="0.7"/>
<line x1="315.07" y1="332.99" x2="317.07" y2="332.99" stroke="#000" stroke-width="0.7"/>
<line x1="317.52" y1="334.42" x2="319.52" y2="334.42" stroke="#000" stroke-width="0.7"/>
<line x1="319.97" y1="335.00" x2="321.97" y2="335.00" stroke="#000" stroke-width="0.7"/>
<line x1="322.42" y1="334.46" x2="324.42" y2="334.46" stroke="#000" stroke-width="0.7"/>
<line x1="324.87" y1="334.35" x2="326.87" y2="334.35" stroke="#000" stroke-width="0.7"/>
<line x1="326.50" y1="334.72" x2="328.50" y2="334.72" stroke="#000" stroke-width="0.7"/>
<polyline points="203.38,334.92 205.83,334.92 208.28,334.92 210.73,334.92 213.18,334.92 215.63,334.92 218.08,334.72 220.53,322.12 222.98,296.86 225.43,262.11 227.87,226.69 230.32,204.48 232.77,209.49 235.22,224.61 237.67,238.76 240.12,251.52 242.57,262.86 245.02,272.82 247.47,281.53 249.92,289.09 252.37,295.64 254.82,301.29 257.27,305.25 259.72,310.38 262.17,312.54 264.62,316.79 267.07,318.72 269.52,321.93 271.97,324.10 274.42,325.89 276.87,326.42 279.32,327.48 281.77,328.65 284.22,329.71 286.67,330.21 289.12,330.73 291.57,331.52 294.02,332.11 296.47,332.28 298.92,332.93 301.37,332.92 303.82,333.70 306.27,334.77 308.72,333.80 311.17,334.45 313.62,333.06 316.07,335.00 318.52,334.19 320.97,333.87 323.42,334.90 325.87,334.22 327.50,333.63" fill="none" stroke="#000" stroke-width="0.8" stroke-linejoin="round" />
<circle cx="203.38" cy="334.92" r="0.90" fill="#000"/>
<circle cx="205.83" cy="334.92" r="0.90" fill="#000"/>
<circle cx="208.28" cy="334.92" r="0.90" fill="#000"/>
<circle cx="210.73" cy="334.92" r="0.90" fill="#000"/>
<circle cx="213.18" cy="334.92" r="0.90" fill="#000"/>
<circle cx="215.63" cy="334.92" r="0.90" fill="#000"/>
<circle cx="218.08" cy="334.72" r="0.90" fill="#000"/>
<circle cx="220.53" cy="322.12" r="0.90" fill="#000"/>
<circle cx="222.98" cy="296.86" r="0.90" fill="#000"/>
<circle cx="225.43" cy="262.11" r="0.90" fill="#000"/>
<circle cx="227.87" cy="226.69" r="0.90" fill="#000"/>
<circle cx="230.32" cy="204.48" r="0.90" fill="#000"/>
<circle cx="232.77" cy="209.49" r="0.90" fill="#000"/>
<circle cx="235.22" cy="224.61" r="0.90" fill="#000"/>
<circle cx="237.67" cy="238.76" r="0.90" fill="#000"/>
<circle cx="240.12" cy="251.52" r="0.90" fill="#000"/>
<circle cx="242.57" cy="262.86" r="0.90" fill="#000"/>
<circle cx="245.02" cy="272.82" r="0.90" fill="#000"/>
<circle cx="247.47" cy="281.53" r="0.90" fill="#000"/>
<circle cx="249.92" cy="289.09" r="0.90" fill="#000"/>
<circle cx="252.37" cy="295.64" r="0.90" fill="#000"/>
<circle cx="254.82" cy="301.29" r="0.90" fill="#000"/>
<circle cx="257.27" cy="305.25" r="0.90" fill="#000"/>
<circle cx="259.72" cy="310.38" r="0.90" fill="#000"/>
<circle cx="262.17" cy="312.54" r="0.90" fill="#000"/>
<circle cx="264.62" cy="316.79" r="0.90" fill="#000"/>
<circle cx="267.07" cy="318.72" r="0.90" fill="#000"/>
<circle cx="269.52" cy="321.93" r="0.90" fill="#000"/>
<circle cx="271.97" cy="324.10" r="0.90" fill="#000"/>
<circle cx="274.42" cy="325.89" r="0.90" fill="#000"/>
<circle cx="276.87" cy="326.42" r="0.90" fill="#000"/>
<circle cx="279.32" cy="327.48" r="0.90" fill="#000"/>
<circle cx="281.77" cy="328.65" r="0.90" fill="#000"/>
<circle cx="284.22" cy="329.71" r="0.90" fill="#000"/>
<circle cx="286.67" cy="330.21" r="0.90" fill="#000"/>
<circle cx="289.12" cy="330.73" r="0.90" fill="#000"/>
<circle cx="291.57" cy="331.52" r="0.90" fill="#000"/>
<circle cx="294.02" cy="332.11" r="0.90" fill="#000"/>
<circle cx="296.47" cy="332.28" r="0.90" fill="#000"/>
<circle cx="298.92" cy="332.93" r="0.90" fill="#000"/>
<circle cx="301.37" cy="332.92" r="0.90" fill="#000"/>
<circle cx="303.82" cy="333.70" r="0.90" fill="#000"/>
<circle cx="306.27" cy="334.77" r="0.90" fill="#000"/>
<circle cx="308.72" cy="333.80" r="0.90" fill="#000"/>
<circle cx="311.17" cy="334.45" r="0.90" fill="#000"/>
<circle cx="313.62" cy="333.06" r="0.90" fill="#000"/>
<circle cx="316.07" cy="335.00" r="0.90" fill="#000"/>
<circle cx="318.52" cy="334.19" r="0.90" fill="#000"/>
<circle cx="320.97" cy="333.87" r="0.90" fill="#000"/>
<circle cx="323.42" cy="334.90" r="0.90" fill="#000"/>
<circle cx="325.87" cy="334.22" r="0.90" fill="#000"/>
<circle cx="327.50" cy="333.63" r="0.90" fill="#000"/>
<polyline points="203.38,334.92 205.83,334.92 208.28,334.92 210.73,334.92 213.18,334.92 215.63,334.92 218.08,334.92 220.53,334.92 222.98,333.96 225.43,319.76 227.87,295.34 230.32,265.48 232.77,240.41 235.22,229.61 237.67,238.90 240.12,251.75 242.57,263.46 245.02,273.80 247.47,282.82 249.92,290.61 252.37,297.30 254.82,303.01 257.27,307.92 259.72,311.92 262.17,315.44 264.62,318.53 267.07,321.09 269.52,322.17 271.97,325.64 274.42,326.29 276.87,327.34 279.32,328.34 281.77,329.78 284.22,329.02 286.67,330.89 289.12,331.70 291.57,333.71 294.02,330.95 296.47,332.13 298.92,332.39 301.37,333.29 303.82,334.50 306.27,334.88 308.72,334.12 311.17,333.08 313.62,333.91 316.07,334.45 318.52,334.37 320.97,333.02 323.42,333.01 325.87,334.68 327.50,333.52" fill="none" stroke="#000" stroke-width="0.8" stroke-linejoin="round" />
<path d="M203.38 333.49L204.48 334.92L203.38 336.35L202.28 334.92Z" fill="#000"/>
<path d="M205.83 333.49L206.93 334.92L205.83 336.35L204.73 334.92Z" fill="#000"/>
<path d="M208.28 333.49L209.38 334.92L208.28 336.35L207.18 334.92Z" fill="#000"/>
<path d="M210.73 333.49L211.83 334.92L210.73 336.35L209.63 334.92Z" fill="#000"/>
<path d="M213.18 333.49L214.28 334.92L213.18 336.35L212.08 334.92Z" fill="#000"/>
<path d="M215.63 333.49L216.73 334.92L215.63 336.35L214.53 334.92Z" fill="#000"/>
<path d="M218.08 333.49L219.18 334.92L218.08 336.35L216.98 334.92Z" fill="#000"/>
<path d="M220.53 333.49L221.63 334.92L220.53 336.35L219.43 334.92Z" fill="#000"/>
<path d="M222.98 332.53L224.08 333.96L222.98 335.39L221.88 333.96Z" fill="#000"/>
<path d="M225.43 318.33L226.53 319.76L225.43 321.19L224.33 319.76Z" fill="#000"/>
<path d="M227.87 293.91L228.97 295.34L227.87 296.77L226.77 295.34Z" fill="#000"/>
<path d="M230.32 264.05L231.42 265.48L230.32 266.91L229.22 265.48Z" fill="#000"/>
<path d="M232.77 238.98L233.87 240.41L232.77 241.84L231.67 240.41Z" fill="#000"/>
<path d="M235.22 228.18L236.32 229.61L235.22 231.04L234.12 229.61Z" fill="#000"/>
<path d="M237.67 237.47L238.77 238.90L237.67 240.33L236.57 238.90Z" fill="#000"/>
<path d="M240.12 250.32L241.22 251.75L240.12 253.18L239.02 251.75Z" fill="#000"/>
<path d="M242.57 262.03L243.67 263.46L242.57 264.89L241.47 263.46Z" fill="#000"/>
<path d="M245.02 272.37L246.12 273.80L245.02 275.23L243.92 273.80Z" fill="#000"/>
<path d="M247.47 281.39L248.57 282.82L247.47 284.25L246.37 282.82Z" fill="#000"/>
<path d="M249.92 289.18L251.02 290.61L249.92 292.04L248.82 290.61Z" fill="#000"/>
<path d="M252.37 295.87L253.47 297.30L252.37 298.73L251.27 297.30Z" fill="#000"/>
<path d="M254.82 301.58L255.92 303.01L254.82 304.44L253.72 303.01Z" fill="#000"/>
<path d="M257.27 306.49L258.37 307.92L257.27 309.35L256.17 307.92Z" fill="#000"/>
<path d="M259.72 310.49L260.82 311.92L259.72 313.35L258.62 311.92Z" fill="#000"/>
<path d="M262.17 314.01L263.27 315.44L262.17 316.87L261.07 315.44Z" fill="#000"/>
<path d="M264.62 317.10L265.72 318.53L264.62 319.96L263.52 318.53Z" fill="#000"/>
<path d="M267.07 319.66L268.17 321.09L267.07 322.52L265.97 321.09Z" fill="#000"/>
<path d="M269.52 320.74L270.62 322.17L269.52 323.60L268.42 322.17Z" fill="#000"/>
<path d="M271.97 324.21L273.07 325.64L271.97 327.07L270.87 325.64Z" fill="#000"/>
<path d="M274.42 324.86L275.52 326.29L274.42 327.72L273.32 326.29Z" fill="#000"/>
<path d="M276.87 325.91L277.97 327.34L276.87 328.77L275.77 327.34Z" fill="#000"/>
<path d="M279.32 326.91L280.42 328.34L279.32 329.77L278.22 328.34Z" fill="#000"/>
<path d="M281.77 328.35L282.87 329.78L281.77 331.21L280.67 329.78Z" fill="#000"/>
<path d="M284.22 327.59L285.32 329.02L284.22 330.45L283.12 329.02Z" fill="#000"/>
<path d="M286.67 329.46L287.77 330.89L286.67 332.32L285.57 330.89Z" fill="#000"/>
<path d="M289.12 330.27L290.22 331.70L289.12 333.13L288.02 331.70Z" fill="#000"/>
<path d="M291.57 332.28L292.67 333.71L291.57 335.14L290.47 333.71Z" fill="#000"/>
<path d="M294.02 329.52L295.12 330.95L294.02 332.38L292.92 330.95Z" fill="#000"/>
<path d="M296.47 330.70L297.57 332.13L296.47 333.56L295.37 332.13Z" fill="#000"/>
<path d="M298.92 330.96L300.02 332.39L298.92 333.82L297.82 332.39Z" fill="#000"/>
<path d="M301.37 331.86L302.47 333.29L301.37 334.72L300.27 333.29Z" fill="#000"/>
<path d="M303.82 333.07L304.92 334.50L303.82 335.93L302.72 334.50Z" fill="#000"/>
<path d="M306.27 333.45L307.37 334.88L306.27 336.31L305.17 334.88Z" fill="#000"/>
<path d="M308.72 332.69L309.82 334.12L308.72 335.55L307.62 334.12Z" fill="#000"/>
<path d="M311.17 331.65L312.27 333.08L311.17 334.51L310.07 333.08Z" fill="#000"/>
<path d="M313.62 332.48L314.72 333.91L313.62 335.34L312.52 333.91Z" fill="#000"/>
<path d="M316.07 333.02L317.17 334.45L316.07 335.88L314.97 334.45Z" fill="#000"/>
<path d="M318.52 332.94L319.62 334.37L318.52 335.80L317.42 334.37Z" fill="#000"/>
<path d="M320.97 331.59L322.07 333.02L320.97 334.45L319.87 333.02Z" fill="#000"/>
<path d="M323.42 331.58L324.52 333.01L323.42 334.44L322.32 333.01Z" fill="#000"/>
<path d="M325.87 333.25L326.97 334.68L325.87 336.11L324.77 334.68Z" fill="#000"/>
<path d="M327.50 332.09L328.60 333.52L327.50 334.95L326.40 333.52Z" fill="#000"/>
<polyline points="203.38,334.92 205.83,334.92 208.28,334.92 210.73,334.92 213.18,334.92 215.63,334.92 218.08,334.92 220.53,334.92 222.98,334.91 225.43,327.68 227.87,308.30 230.32,280.96 232.77,252.91 235.22,234.39 237.67,232.86 240.12,245.65 242.57,257.92 245.02,268.90 247.47,278.55 249.92,286.91 252.37,294.12 254.82,300.29 257.27,305.75 259.72,309.91 262.17,313.82 264.62,316.72 267.07,320.51 269.52,322.15 271.97,322.99 274.42,324.18 276.87,328.18 279.32,326.70 281.77,328.67 284.22,330.77 286.67,331.58 289.12,330.95 291.57,331.91 294.02,330.98 296.47,332.80 298.92,332.99 301.37,333.05 303.82,331.44 306.27,333.17 308.72,334.62 311.17,332.88 313.62,334.81 316.07,333.98 318.52,333.94 320.97,333.71 323.42,334.04 325.87,334.04 327.50,333.98" fill="none" stroke="#000" stroke-width="0.8" stroke-linejoin="round" />
<circle cx="203.38" cy="334.92" r="1.10" fill="#fff" stroke="#000" stroke-width="0.6"/>
<circle cx="205.83" cy="334.92" r="1.10" fill="#fff" stroke="#000" stroke-width="0.6"/>
<circle cx="208.28" cy="334.92" r="1.10" fill="#fff" stroke="#000" stroke-width="0.6"/>
<circle cx="210.73" cy="334.92" r="1.10" fill="#fff" stroke="#000" stroke-width="0.6"/>
<circle cx="213.18" cy="334.92" r="1.10" fill="#fff" stroke="#000" stroke-width="0.6"/>
<circle cx="215.63" cy="334.92" r="1.10" fill="#fff" stroke="#000" stroke-width="0.6"/>
<circle cx="218.08" cy="334.92" r="1.10" fill="#fff" stroke="#000" stroke-width="0.6"/>
<circle cx="220.53" cy="334.92" r="1.10" fill="#fff" stroke="#000" stroke-width="0.6"/>
<circle cx="222.98" cy="334.91" r="1.10" fill="#fff" stroke="#000" stroke-width="0.6"/>
<circle cx="225.43" cy="327.68" r="1.10" fill="#fff" stroke="#000" stroke-width="0.6"/>
<circle cx="227.87" cy="308.30" r="1.10" fill="#fff" stroke="#000" stroke-width="0.6"/>
<circle cx="230.32" cy="280.96" r="1.10" fill="#fff" stroke="#000" stroke-width="0.6"/>
<circle cx="232.77" cy="252.91" r="1.10" fill="#fff" stroke="#000" stroke-width="0.6"/>
<circle cx="235.22" cy="234.39" r="1.10" fill="#fff" stroke="#000" stroke-width="0.6"/>
<circle cx="237.67" cy="232.86" r="1.10" fill="#fff" stroke="#000" stroke-width="0.6"/>
<circle cx="240.12" cy="245.65" r="1.10" fill="#fff" stroke="#000" stroke-width="0.6"/>
<circle cx="242.57" cy="257.92" r="1.10" fill="#fff" stroke="#000" stroke-width="0.6"/>
<circle cx="245.02" cy="268.90" r="1.10" fill="#fff" stroke="#000" stroke-width="0.6"/>
<circle cx="247.47" cy="278.55" r="1.10" fill="#fff" stroke="#000" stroke-width="0.6"/>
<circle cx="249.92" cy="286.91" r="1.10" fill="#fff" stroke="#000" stroke-width="0.6"/>
<circle cx="252.37" cy="294.12" r="1.10" fill="#fff" stroke="#000" stroke-width="0.6"/>
<circle cx="254.82" cy="300.29" r="1.10" fill="#fff" stroke="#000" stroke-width="0.6"/>
<circle cx="257.27" cy="305.75" r="1.10" fill="#fff" stroke="#000" stroke-width="0.6"/>
<circle cx="259.72" cy="309.91" r="1.10" fill="#fff" stroke="#000" stroke-width="0.6"/>
<circle cx="262.17" cy="313.82" r="1.10" fill="#fff" stroke="#000" stroke-width="0.6"/>
<circle cx="264.62" cy="316.72" r="1.10" fill="#fff" stroke="#000" stroke-width="0.6"/>
<circle cx="267.07" cy="320.51" r="1.10" fill="#fff" stroke="#000" stroke-width="0.6"/>
<circle cx="269.52" cy="322.15" r="1.10" fill="#fff" stroke="#000" stroke-width="0.6"/>
<circle cx="271.97" cy="322.99" r="1.10" fill="#fff" stroke="#000" stroke-width="0.6"/>
<circle cx="274.42" cy="324.18" r="1.10" fill="#fff" stroke="#000" stroke-width="0.6"/>
<circle cx="276.87" cy="328.18" r="1.10" fill="#fff" stroke="#000" stroke-width="0.6"/>
<circle cx="279.32" cy="326.70" r="1.10" fill="#fff" stroke="#000" stroke-width="0.6"/>
<circle cx="281.77" cy="328.67" r="1.10" fill="#fff" stroke="#000" stroke-width="0.6"/>
<circle cx="284.22" cy="330.77" r="1.10" fill="#fff" stroke="#000" stroke-width="0.6"/>
<circle cx="286.67" cy="331.58" r="1.10" fill="#fff" stroke="#000" stroke-width="0.6"/>
<circle cx="289.12" cy="330.95" r="1.10" fill="#fff" stroke="#000" stroke-width="0.6"/>
<circle cx="291.57" cy="331.91" r="1.10" fill="#fff" stroke="#000" stroke-width="0.6"/>
<circle cx="294.02" cy="330.98" r="1.10" fill="#fff" stroke="#000" stroke-width="0.6"/>
<circle cx="296.47" cy="332.80" r="1.10" fill="#fff" stroke="#000" stroke-width="0.6"/>
<circle cx="298.92" cy="332.99" r="1.10" fill="#fff" stroke="#000" stroke-width="0.6"/>
<circle cx="301.37" cy="333.05" r="1.10" fill="#fff" stroke="#000" stroke-width="0.6"/>
<circle cx="303.82" cy="331.44" r="1.10" fill="#fff" stroke="#000" stroke-width="0.6"/>
<circle cx="306.27" cy="333.17" r="1.10" fill="#fff" stroke="#000" stroke-width="0.6"/>
<circle cx="308.72" cy="334.62" r="1.10" fill="#fff" stroke="#000" stroke-width="0.6"/>
<circle cx="311.17" cy="332.88" r="1.10" fill="#fff" stroke="#000" stroke-width="0.6"/>
<circle cx="313.62" cy="334.81" r="1.10" fill="#fff" stroke="#000" stroke-width="0.6"/>
<circle cx="316.07" cy="333.98" r="1.10" fill="#fff" stroke="#000" stroke-width="0.6"/>
<circle cx="318.52" cy="333.94" r="1.10" fill="#fff" stroke="#000" stroke-width="0.6"/>
<circle cx="320.97" cy="333.71" r="1.10" fill="#fff" stroke="#000" stroke-width="0.6"/>
<circle cx="323.42" cy="334.04" r="1.10" fill="#fff" stroke="#000" stroke-width="0.6"/>
<circle cx="325.87" cy="334.04" r="1.10" fill="#fff" stroke="#000" stroke-width="0.6"/>
<circle cx="327.50" cy="333.98" r="1.10" fill="#fff" stroke="#000" stroke-width="0.6"/>
<polyline points="203.38,334.92 205.83,334.92 208.28,334.92 210.73,334.92 213.18,334.92 215.63,334.92 218.08,334.92 220.53,334.92 222.98,334.84 225.43,330.75 227.87,323.16 230.32,313.97 232.77,305.69 235.22,300.24 237.67,297.86 240.12,297.49 242.57,300.34 245.02,304.10 247.47,307.78 249.92,311.21 252.37,314.32 254.82,317.11 257.27,319.52 259.72,320.94 262.17,323.50 264.62,325.17 267.07,326.60 269.52,326.32 271.97,328.95 274.42,330.00 276.87,331.74 279.32,330.24 281.77,333.13 284.22,333.30 286.67,332.49 289.12,333.12 291.57,332.93 294.02,332.85 296.47,332.84 298.92,335.00 301.37,334.32 303.82,333.84 306.27,333.92 308.72,334.04 311.17,333.33 313.62,334.11 316.07,334.70 318.52,332.37 320.97,334.91 323.42,335.00 325.87,334.79 327.50,334.39" fill="none" stroke="#000" stroke-width="0.8" stroke-linejoin="round" />
<circle cx="203.38" cy="334.92" r="1.40" fill="#000"/>
<circle cx="205.83" cy="334.92" r="1.40" fill="#000"/>
<circle cx="208.28" cy="334.92" r="1.40" fill="#000"/>
<circle cx="210.73" cy="334.92" r="1.40" fill="#000"/>
<circle cx="213.18" cy="334.92" r="1.40" fill="#000"/>
<circle cx="215.63" cy="334.92" r="1.40" fill="#000"/>
<circle cx="218.08" cy="334.92" r="1.40" fill="#000"/>
<circle cx="220.53" cy="334.92" r="1.40" fill="#000"/>
<circle cx="222.98" cy="334.84" r="1.40" fill="#000"/>
<circle cx="225.43" cy="330.75" r="1.40" fill="#000"/>
<circle cx="227.87" cy="323.16" r="1.40" fill="#000"/>
<circle cx="230.32" cy="313.97" r="1.40" fill="#000"/>
<circle cx="232.77" cy="305.69" r="1.40" fill="#000"/>
<circle cx="235.22" cy="300.24" r="1.40" fill="#000"/>
<circle cx="237.67" cy="297.86" r="1.40" fill="#000"/>
<circle cx="240.12" cy="297.49" r="1.40" fill="#000"/>
<circle cx="242.57" cy="300.34" r="1.40" fill="#000"/>
<circle cx="245.02" cy="304.10" r="1.40" fill="#000"/>
<circle cx="247.47" cy="307.78" r="1.40" fill="#000"/>
<circle cx="249.92" cy="311.21" r="1.40" fill="#000"/>
<circle cx="252.37" cy="314.32" r="1.40" fill="#000"/>
<circle cx="254.82" cy="317.11" r="1.40" fill="#000"/>
<circle cx="257.27" cy="319.52" r="1.40" fill="#000"/>
<circle cx="259.72" cy="320.94" r="1.40" fill="#000"/>
<circle cx="262.17" cy="323.50" r="1.40" fill="#000"/>
<circle cx="264.62" cy="325.17" r="1.40" fill="#000"/>
<circle cx="267.07" cy="326.60" r="1.40" fill="#000"/>
<circle cx="269.52" cy="326.32" r="1.40" fill="#000"/>
<circle cx="271.97" cy="328.95" r="1.40" fill="#000"/>
<circle cx="274.42" cy="330.00" r="1.40" fill="#000"/>
<circle cx="276.87" cy="331.74" r="1.40" fill="#000"/>
<circle cx="279.32" cy="330.24" r="1.40" fill="#000"/>
<circle cx="281.77" cy="333.13" r="1.40" fill="#000"/>
<circle cx="284.22" cy="333.30" r="1.40" fill="#000"/>
<circle cx="286.67" cy="332.49" r="1.40" fill="#000"/>
<circle cx="289.12" cy="333.12" r="1.40" fill="#000"/>
<circle cx="291.57" cy="332.93" r="1.40" fill="#000"/>
<circle cx="294.02" cy="332.85" r="1.40" fill="#000"/>
<circle cx="296.47" cy="332.84" r="1.40" fill="#000"/>
<circle cx="298.92" cy="335.00" r="1.40" fill="#000"/>
<circle cx="301.37" cy="334.32" r="1.40" fill="#000"/>
<circle cx="303.82" cy="333.84" r="1.40" fill="#000"/>
<circle cx="306.27" cy="333.92" r="1.40" fill="#000"/>
<circle cx="308.72" cy="334.04" r="1.40" fill="#000"/>
<circle cx="311.17" cy="333.33" r="1.40" fill="#000"/>
<circle cx="313.62" cy="334.11" r="1.40" fill="#000"/>
<circle cx="316.07" cy="334.70" r="1.40" fill="#000"/>
<circle cx="318.52" cy="332.37" r="1.40" fill="#000"/>
<circle cx="320.97" cy="334.91" r="1.40" fill="#000"/>
<circle cx="323.42" cy="335.00" r="1.40" fill="#000"/>
<circle cx="325.87" cy="334.79" r="1.40" fill="#000"/>
<circle cx="327.50" cy="334.39" r="1.40" fill="#000"/>
<line x1="238.40" y1="200.50" x2="248.40" y2="200.50" stroke="#444" stroke-width="1.1" />
<text transform="translate(249.60,204.00) scale(0.98,1)" font-size="8.4" text-anchor="start" >No protein S</text>
<line x1="239.90" y1="210.40" x2="249.70" y2="210.40" stroke="#444" stroke-width="1.1" />
<circle cx="244.6" cy="210.4" r="1.2"/>
<text x="251.00" y="213.40" font-size="8.4" text-anchor="start" >D95A</text>
<line x1="243.20" y1="226.10" x2="253.00" y2="226.10" stroke="#444" stroke-width="1.1" />
<path d="M248.4 224.5L249.8 226.1L248.4 227.7L247.0 226.1Z"/>
<text x="254.40" y="229.30" font-size="8.4" text-anchor="start" >D78A</text>
<line x1="246.50" y1="234.60" x2="255.60" y2="234.60" stroke="#444" stroke-width="1.1" />
<circle cx="251.3" cy="234.6" r="1.4" fill="#fff" stroke="#000" stroke-width="0.7"/>
<text x="257.90" y="237.80" font-size="8.4" text-anchor="start" >Q79A</text>
<line x1="263.10" y1="296.90" x2="273.80" y2="296.90" stroke="#555" stroke-width="1.2" />
<ellipse cx="268.3" cy="296.9" rx="1.7" ry="1.4"/>
<text transform="translate(275.00,299.80) scale(1.07,1)" font-size="8.4" text-anchor="start" >WT</text>
<line x1="378.00" y1="335.00" x2="378.00" y2="199.40" stroke="#999" stroke-width="1.6" />
<line x1="378.00" y1="335.00" x2="513.50" y2="335.00" stroke="#444" stroke-width="1.0" />
<line x1="378.00" y1="335.00" x2="378.00" y2="337.30" stroke="#444" stroke-width="1.0" />
<text transform="translate(378.00,345.10) scale(0.95,1)" font-size="7.4" font-weight="bold" text-anchor="middle" >0</text>
<line x1="411.88" y1="335.00" x2="411.88" y2="337.30" stroke="#444" stroke-width="1.0" />
<text transform="translate(411.88,345.10) scale(0.95,1)" font-size="7.4" font-weight="bold" text-anchor="middle" >30</text>
<line x1="445.75" y1="335.00" x2="445.75" y2="337.30" stroke="#444" stroke-width="1.0" />
<text transform="translate(445.75,345.10) scale(0.95,1)" font-size="7.4" font-weight="bold" text-anchor="middle" >60</text>
<line x1="479.63" y1="335.00" x2="479.63" y2="337.30" stroke="#444" stroke-width="1.0" />
<text transform="translate(479.63,345.10) scale(0.95,1)" font-size="7.4" font-weight="bold" text-anchor="middle" >90</text>
<line x1="513.50" y1="335.00" x2="513.50" y2="337.30" stroke="#444" stroke-width="1.0" />
<text transform="translate(513.50,345.10) scale(0.95,1)" font-size="7.4" font-weight="bold" text-anchor="middle" >120</text>
<line x1="375.60" y1="335.00" x2="378.00" y2="335.00" stroke="#999" stroke-width="1.6" />
<text transform="translate(375.40,337.60) scale(0.95,1)" font-size="7.4" font-weight="bold" text-anchor="end" >0</text>
<line x1="375.60" y1="301.10" x2="378.00" y2="301.10" stroke="#999" stroke-width="1.6" />
<text transform="translate(375.40,303.70) scale(0.95,1)" font-size="7.4" font-weight="bold" text-anchor="end" >25</text>
<line x1="375.60" y1="267.20" x2="378.00" y2="267.20" stroke="#999" stroke-width="1.6" />
<text transform="translate(375.40,269.80) scale(0.95,1)" font-size="7.4" font-weight="bold" text-anchor="end" >50</text>
<line x1="375.60" y1="233.30" x2="378.00" y2="233.30" stroke="#999" stroke-width="1.6" />
<text transform="translate(375.40,235.90) scale(0.95,1)" font-size="7.4" font-weight="bold" text-anchor="end" >75</text>
<line x1="375.60" y1="199.40" x2="378.00" y2="199.40" stroke="#999" stroke-width="1.6" />
<text transform="translate(375.40,202.00) scale(0.95,1)" font-size="7.4" font-weight="bold" text-anchor="end" >100</text>
<text transform="translate(445.75,356.50) scale(0.95,1)" font-size="8.8" font-weight="bold" text-anchor="middle" >protein S (nM)</text>
<text x="0" y="0" font-size="8.2" font-weight="bold" text-anchor="middle" transform="translate(358.60,266.00) rotate(-90)">Peak height (%)</text>
<text x="351.20" y="193.00" font-size="12.6" font-weight="bold" text-anchor="start" >F</text>
<polyline points="378.00,199.40 394.94,201.43 411.88,207.54 445.75,204.42 479.63,209.71 513.50,217.84" fill="none" stroke="#222" stroke-width="0.8" stroke-linejoin="round" />
<circle cx="378.00" cy="199.40" r="1.0" fill="#000"/>
<line x1="394.94" y1="200.08" x2="394.94" y2="202.79" stroke="#222" stroke-width="0.6" />
<line x1="393.64" y1="200.08" x2="396.24" y2="200.08" stroke="#222" stroke-width="0.6" />
<line x1="393.64" y1="202.79" x2="396.24" y2="202.79" stroke="#222" stroke-width="0.6" />
<circle cx="394.94" cy="201.43" r="1.0" fill="#000"/>
<line x1="411.88" y1="204.82" x2="411.88" y2="210.25" stroke="#222" stroke-width="0.6" />
<line x1="410.58" y1="204.82" x2="413.18" y2="204.82" stroke="#222" stroke-width="0.6" />
<line x1="410.58" y1="210.25" x2="413.18" y2="210.25" stroke="#222" stroke-width="0.6" />
<circle cx="411.88" cy="207.54" r="1.0" fill="#000"/>
<line x1="445.75" y1="203.06" x2="445.75" y2="205.77" stroke="#222" stroke-width="0.6" />
<line x1="444.45" y1="203.06" x2="447.05" y2="203.06" stroke="#222" stroke-width="0.6" />
<line x1="444.45" y1="205.77" x2="447.05" y2="205.77" stroke="#222" stroke-width="0.6" />
<circle cx="445.75" cy="204.42" r="1.0" fill="#000"/>
<line x1="479.63" y1="207.67" x2="479.63" y2="211.74" stroke="#222" stroke-width="0.6" />
<line x1="478.33" y1="207.67" x2="480.93" y2="207.67" stroke="#222" stroke-width="0.6" />
<line x1="478.33" y1="211.74" x2="480.93" y2="211.74" stroke="#222" stroke-width="0.6" />
<circle cx="479.63" cy="209.71" r="1.0" fill="#000"/>
<line x1="513.50" y1="214.45" x2="513.50" y2="221.23" stroke="#222" stroke-width="0.6" />
<line x1="512.20" y1="214.45" x2="514.80" y2="214.45" stroke="#222" stroke-width="0.6" />
<line x1="512.20" y1="221.23" x2="514.80" y2="221.23" stroke="#222" stroke-width="0.6" />
<circle cx="513.50" cy="217.84" r="1.0" fill="#000"/>
<polyline points="378.00,199.40 394.94,202.11 411.88,207.54 445.75,215.13 479.63,226.79 513.50,233.03" fill="none" stroke="#222" stroke-width="0.8" stroke-linejoin="round" />
<circle cx="378.00" cy="199.40" r="0.9" fill="#000"/>
<line x1="394.94" y1="200.76" x2="394.94" y2="203.47" stroke="#222" stroke-width="0.6" />
<line x1="393.64" y1="200.76" x2="396.24" y2="200.76" stroke="#222" stroke-width="0.6" />
<line x1="393.64" y1="203.47" x2="396.24" y2="203.47" stroke="#222" stroke-width="0.6" />
<circle cx="394.94" cy="202.11" r="0.9" fill="#000"/>
<line x1="411.88" y1="203.47" x2="411.88" y2="211.60" stroke="#222" stroke-width="0.6" />
<line x1="410.58" y1="203.47" x2="413.18" y2="203.47" stroke="#222" stroke-width="0.6" />
<line x1="410.58" y1="211.60" x2="413.18" y2="211.60" stroke="#222" stroke-width="0.6" />
<circle cx="411.88" cy="207.54" r="0.9" fill="#000"/>
<line x1="445.75" y1="208.35" x2="445.75" y2="221.91" stroke="#222" stroke-width="0.6" />
<line x1="444.45" y1="208.35" x2="447.05" y2="208.35" stroke="#222" stroke-width="0.6" />
<line x1="444.45" y1="221.91" x2="447.05" y2="221.91" stroke="#222" stroke-width="0.6" />
<circle cx="445.75" cy="215.13" r="0.9" fill="#000"/>
<line x1="479.63" y1="220.01" x2="479.63" y2="233.57" stroke="#222" stroke-width="0.6" />
<line x1="478.33" y1="220.01" x2="480.93" y2="220.01" stroke="#222" stroke-width="0.6" />
<line x1="478.33" y1="233.57" x2="480.93" y2="233.57" stroke="#222" stroke-width="0.6" />
<circle cx="479.63" cy="226.79" r="0.9" fill="#000"/>
<circle cx="513.50" cy="233.03" r="0.9" fill="#000"/>
<polyline points="378.00,199.40 394.94,203.47 411.88,217.03 445.75,273.30 479.63,292.96 513.50,312.49" fill="none" stroke="#222" stroke-width="0.8" stroke-linejoin="round" />
<circle cx="378.00" cy="199.40" r="1.5" fill="#000"/>
<line x1="394.94" y1="201.43" x2="394.94" y2="205.50" stroke="#222" stroke-width="0.6" />
<line x1="393.64" y1="201.43" x2="396.24" y2="201.43" stroke="#222" stroke-width="0.6" />
<line x1="393.64" y1="205.50" x2="396.24" y2="205.50" stroke="#222" stroke-width="0.6" />
<circle cx="394.94" cy="203.47" r="1.5" fill="#000"/>
<line x1="411.88" y1="211.60" x2="411.88" y2="222.45" stroke="#222" stroke-width="0.6" />
<line x1="410.58" y1="211.60" x2="413.18" y2="211.60" stroke="#222" stroke-width="0.6" />
<line x1="410.58" y1="222.45" x2="413.18" y2="222.45" stroke="#222" stroke-width="0.6" />
<circle cx="411.88" cy="217.03" r="1.5" fill="#000"/>
<line x1="445.75" y1="257.03" x2="445.75" y2="289.57" stroke="#222" stroke-width="0.6" />
<line x1="444.45" y1="257.03" x2="447.05" y2="257.03" stroke="#222" stroke-width="0.6" />
<line x1="444.45" y1="289.57" x2="447.05" y2="289.57" stroke="#222" stroke-width="0.6" />
<circle cx="445.75" cy="273.30" r="1.5" fill="#000"/>
<line x1="479.63" y1="289.17" x2="479.63" y2="296.76" stroke="#222" stroke-width="0.6" />
<line x1="478.33" y1="289.17" x2="480.93" y2="289.17" stroke="#222" stroke-width="0.6" />
<line x1="478.33" y1="296.76" x2="480.93" y2="296.76" stroke="#222" stroke-width="0.6" />
<circle cx="479.63" cy="292.96" r="1.5" fill="#000"/>
<line x1="513.50" y1="307.61" x2="513.50" y2="317.37" stroke="#222" stroke-width="0.6" />
<line x1="512.20" y1="307.61" x2="514.80" y2="307.61" stroke="#222" stroke-width="0.6" />
<line x1="512.20" y1="317.37" x2="514.80" y2="317.37" stroke="#222" stroke-width="0.6" />
<circle cx="513.50" cy="312.49" r="1.5" fill="#000"/>
<line x1="383.80" y1="304.30" x2="393.00" y2="304.30" stroke="#222" stroke-width="0.9" />
<circle cx="388.4" cy="304.3" r="1.0"/>
<text x="395.20" y="307.60" font-size="8.2" text-anchor="start" >Protein S D95A</text>
<line x1="383.80" y1="314.80" x2="393.00" y2="314.80" stroke="#222" stroke-width="0.9" />
<circle cx="388.4" cy="314.8" r="0.9"/>
<text x="395.20" y="318.10" font-size="8.2" text-anchor="start" >Protein S D95N</text>
<line x1="383.80" y1="325.90" x2="393.00" y2="325.90" stroke="#222" stroke-width="0.9" />
<circle cx="388.4" cy="325.9" r="1.5"/>
<text x="395.20" y="329.20" font-size="8.2" text-anchor="start" >WT protein S</text>
</svg></body></html>
